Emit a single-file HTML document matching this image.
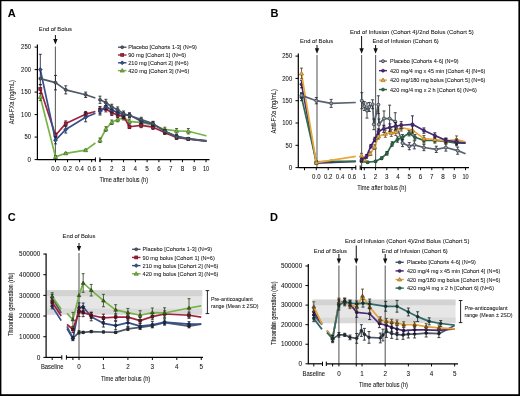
<!DOCTYPE html><html><head><meta charset="utf-8"><style>html,body{margin:0;padding:0;background:#fff;overflow:hidden}svg{display:block;filter:blur(0.3px)}text{font-family:"Liberation Sans", sans-serif}</style></head><body>
<svg width="520" height="396" viewBox="0 0 520 396">
<rect x="0" y="0" width="520" height="396" fill="#fff"/>
<text x="7.7" y="17" font-size="11" text-anchor="start" font-weight="bold" fill="#000" stroke="#222" stroke-width="0.06">A</text>
<text x="55.4" y="30.7" font-size="6.2" text-anchor="middle" font-weight="normal" fill="#111" textLength="33.2" lengthAdjust="spacingAndGlyphs" stroke="#222" stroke-width="0.06">End of Bolus</text>
<path d="M55.4 35V40.5" stroke="#111" stroke-width="1"/>
<path d="M53.199999999999996 38.9L57.6 38.9L55.4 44.5Z" fill="#111"/>
<line x1="55.4" y1="46.5" x2="55.4" y2="159.6" stroke="#606060" stroke-width="1.1"/>
<line x1="37.4" y1="44.5" x2="37.4" y2="160.1" stroke="#000" stroke-width="1.2"/>
<line x1="34.6" y1="159.6" x2="37.4" y2="159.6" stroke="#000" stroke-width="1"/>
<text x="31.0" y="161.85" font-size="6.4" text-anchor="end" font-weight="normal" fill="#111" stroke="#222" stroke-width="0.06">0</text>
<line x1="34.6" y1="137.1" x2="37.4" y2="137.1" stroke="#000" stroke-width="1"/>
<text x="31.0" y="139.35" font-size="6.4" text-anchor="end" font-weight="normal" fill="#111" textLength="6.6" lengthAdjust="spacingAndGlyphs" stroke="#222" stroke-width="0.06">50</text>
<line x1="34.6" y1="114.6" x2="37.4" y2="114.6" stroke="#000" stroke-width="1"/>
<text x="31.0" y="116.85" font-size="6.4" text-anchor="end" font-weight="normal" fill="#111" textLength="9.9" lengthAdjust="spacingAndGlyphs" stroke="#222" stroke-width="0.06">100</text>
<line x1="34.6" y1="92.1" x2="37.4" y2="92.1" stroke="#000" stroke-width="1"/>
<text x="31.0" y="94.35" font-size="6.4" text-anchor="end" font-weight="normal" fill="#111" textLength="9.9" lengthAdjust="spacingAndGlyphs" stroke="#222" stroke-width="0.06">150</text>
<line x1="34.6" y1="69.6" x2="37.4" y2="69.6" stroke="#000" stroke-width="1"/>
<text x="31.0" y="71.85" font-size="6.4" text-anchor="end" font-weight="normal" fill="#111" textLength="9.9" lengthAdjust="spacingAndGlyphs" stroke="#222" stroke-width="0.06">200</text>
<line x1="34.6" y1="47.099999999999994" x2="37.4" y2="47.099999999999994" stroke="#000" stroke-width="1"/>
<text x="31.0" y="49.349999999999994" font-size="6.4" text-anchor="end" font-weight="normal" fill="#111" textLength="9.9" lengthAdjust="spacingAndGlyphs" stroke="#222" stroke-width="0.06">250</text>
<line x1="37.4" y1="159.6" x2="95.6" y2="159.6" stroke="#000" stroke-width="1.2"/>
<line x1="55.5" y1="159.6" x2="55.5" y2="162.2" stroke="#000" stroke-width="1"/>
<text x="55.5" y="171" font-size="6.3" text-anchor="middle" font-weight="normal" fill="#111" textLength="8.5" lengthAdjust="spacingAndGlyphs" stroke="#222" stroke-width="0.06">0.0</text>
<line x1="67.56" y1="159.6" x2="67.56" y2="162.2" stroke="#000" stroke-width="1"/>
<text x="67.56" y="171" font-size="6.3" text-anchor="middle" font-weight="normal" fill="#111" textLength="8.5" lengthAdjust="spacingAndGlyphs" stroke="#222" stroke-width="0.06">0.2</text>
<line x1="79.62" y1="159.6" x2="79.62" y2="162.2" stroke="#000" stroke-width="1"/>
<text x="79.62" y="171" font-size="6.3" text-anchor="middle" font-weight="normal" fill="#111" textLength="8.5" lengthAdjust="spacingAndGlyphs" stroke="#222" stroke-width="0.06">0.4</text>
<line x1="91.68" y1="159.6" x2="91.68" y2="162.2" stroke="#000" stroke-width="1"/>
<text x="91.68" y="171" font-size="6.3" text-anchor="middle" font-weight="normal" fill="#111" textLength="8.5" lengthAdjust="spacingAndGlyphs" stroke="#222" stroke-width="0.06">0.6</text>
<line x1="95.4" y1="157.4" x2="95.4" y2="161.79999999999998" stroke="#000" stroke-width="1"/>
<line x1="99.9" y1="159.6" x2="209.5" y2="159.6" stroke="#000" stroke-width="1.2"/>
<line x1="99.9" y1="157.4" x2="99.9" y2="161.79999999999998" stroke="#000" stroke-width="1"/>
<line x1="100.0" y1="159.6" x2="100.0" y2="162.2" stroke="#000" stroke-width="1"/>
<text x="100.0" y="171" font-size="6.3" text-anchor="middle" font-weight="normal" fill="#111" stroke="#222" stroke-width="0.06">1</text>
<line x1="111.78" y1="159.6" x2="111.78" y2="162.2" stroke="#000" stroke-width="1"/>
<text x="111.78" y="171" font-size="6.3" text-anchor="middle" font-weight="normal" fill="#111" stroke="#222" stroke-width="0.06">2</text>
<line x1="123.56" y1="159.6" x2="123.56" y2="162.2" stroke="#000" stroke-width="1"/>
<text x="123.56" y="171" font-size="6.3" text-anchor="middle" font-weight="normal" fill="#111" stroke="#222" stroke-width="0.06">3</text>
<line x1="135.34" y1="159.6" x2="135.34" y2="162.2" stroke="#000" stroke-width="1"/>
<text x="135.34" y="171" font-size="6.3" text-anchor="middle" font-weight="normal" fill="#111" stroke="#222" stroke-width="0.06">4</text>
<line x1="147.12" y1="159.6" x2="147.12" y2="162.2" stroke="#000" stroke-width="1"/>
<text x="147.12" y="171" font-size="6.3" text-anchor="middle" font-weight="normal" fill="#111" stroke="#222" stroke-width="0.06">5</text>
<line x1="158.9" y1="159.6" x2="158.9" y2="162.2" stroke="#000" stroke-width="1"/>
<text x="158.9" y="171" font-size="6.3" text-anchor="middle" font-weight="normal" fill="#111" stroke="#222" stroke-width="0.06">6</text>
<line x1="170.68" y1="159.6" x2="170.68" y2="162.2" stroke="#000" stroke-width="1"/>
<text x="170.68" y="171" font-size="6.3" text-anchor="middle" font-weight="normal" fill="#111" stroke="#222" stroke-width="0.06">7</text>
<line x1="182.45999999999998" y1="159.6" x2="182.45999999999998" y2="162.2" stroke="#000" stroke-width="1"/>
<text x="182.45999999999998" y="171" font-size="6.3" text-anchor="middle" font-weight="normal" fill="#111" stroke="#222" stroke-width="0.06">8</text>
<line x1="194.24" y1="159.6" x2="194.24" y2="162.2" stroke="#000" stroke-width="1"/>
<text x="194.24" y="171" font-size="6.3" text-anchor="middle" font-weight="normal" fill="#111" stroke="#222" stroke-width="0.06">9</text>
<line x1="206.01999999999998" y1="159.6" x2="206.01999999999998" y2="162.2" stroke="#000" stroke-width="1"/>
<text x="206.01999999999998" y="171" font-size="6.3" text-anchor="middle" font-weight="normal" fill="#111" textLength="6.2" lengthAdjust="spacingAndGlyphs" stroke="#222" stroke-width="0.06">10</text>
<text x="123.8" y="182.2" font-size="6.8" text-anchor="middle" font-weight="normal" fill="#111" textLength="48.6" lengthAdjust="spacingAndGlyphs" stroke="#222" stroke-width="0.06">Time after bolus (h)</text>
<text x="14.5" y="102.1" font-size="6.8" text-anchor="middle" font-weight="normal" fill="#111" transform="rotate(-90 14.5 102.1)" textLength="44.3" lengthAdjust="spacingAndGlyphs" stroke="#222" stroke-width="0.06">Anti-FXa (ng/mL)</text>
<polyline points="40.30,97.05 55.50,156.90 65.75,153.30 85.65,150.15 95.40,142.95" fill="none" stroke="#78b445" stroke-width="1.7" stroke-linejoin="round"/>
<path d="M40.30 93.45V100.65M38.80 93.45H41.80M38.80 100.65H41.80" stroke="#30481b" stroke-width="0.85" fill="none"/>
<path d="M40.30 94.88L42.47 98.60L38.13 98.60Z" fill="#78b445" stroke="#486c29" stroke-width="0.6"/>
<path d="M55.50 155.55V158.25M54.00 155.55H57.00M54.00 158.25H57.00" stroke="#30481b" stroke-width="0.85" fill="none"/>
<path d="M55.50 154.73L57.67 158.45L53.33 158.45Z" fill="#78b445" stroke="#486c29" stroke-width="0.6"/>
<path d="M65.75 152.40V154.20M64.25 152.40H67.25M64.25 154.20H67.25" stroke="#30481b" stroke-width="0.85" fill="none"/>
<path d="M65.75 151.13L67.92 154.85L63.58 154.85Z" fill="#78b445" stroke="#486c29" stroke-width="0.6"/>
<path d="M85.65 149.25V151.05M84.15 149.25H87.15M84.15 151.05H87.15" stroke="#30481b" stroke-width="0.85" fill="none"/>
<path d="M85.65 147.98L87.82 151.70L83.48 151.70Z" fill="#78b445" stroke="#486c29" stroke-width="0.6"/>
<polyline points="100.00,140.25 105.89,129.00 111.78,122.25 117.67,119.55 123.56,117.75 129.45,121.35 141.23,122.70 153.01,124.95 164.79,129.45 176.57,130.80 188.35,131.25 206.02,135.75 206.50,135.75" fill="none" stroke="#78b445" stroke-width="1.7" stroke-linejoin="round"/>
<path d="M100.00 138.00V142.50M98.50 138.00H101.50M98.50 142.50H101.50" stroke="#30481b" stroke-width="0.85" fill="none"/>
<path d="M100.00 138.08L102.17 141.80L97.83 141.80Z" fill="#78b445" stroke="#486c29" stroke-width="0.6"/>
<path d="M105.89 126.75V131.25M104.39 126.75H107.39M104.39 131.25H107.39" stroke="#30481b" stroke-width="0.85" fill="none"/>
<path d="M105.89 126.83L108.06 130.55L103.72 130.55Z" fill="#78b445" stroke="#486c29" stroke-width="0.6"/>
<path d="M111.78 120.00V124.50M110.28 120.00H113.28M110.28 124.50H113.28" stroke="#30481b" stroke-width="0.85" fill="none"/>
<path d="M111.78 120.08L113.95 123.80L109.61 123.80Z" fill="#78b445" stroke="#486c29" stroke-width="0.6"/>
<path d="M117.67 117.30V121.80M116.17 117.30H119.17M116.17 121.80H119.17" stroke="#30481b" stroke-width="0.85" fill="none"/>
<path d="M117.67 117.38L119.84 121.10L115.50 121.10Z" fill="#78b445" stroke="#486c29" stroke-width="0.6"/>
<path d="M123.56 115.50V120.00M122.06 115.50H125.06M122.06 120.00H125.06" stroke="#30481b" stroke-width="0.85" fill="none"/>
<path d="M123.56 115.58L125.73 119.30L121.39 119.30Z" fill="#78b445" stroke="#486c29" stroke-width="0.6"/>
<path d="M129.45 119.10V123.60M127.95 119.10H130.95M127.95 123.60H130.95" stroke="#30481b" stroke-width="0.85" fill="none"/>
<path d="M129.45 119.18L131.62 122.90L127.28 122.90Z" fill="#78b445" stroke="#486c29" stroke-width="0.6"/>
<path d="M141.23 120.45V124.95M139.73 120.45H142.73M139.73 124.95H142.73" stroke="#30481b" stroke-width="0.85" fill="none"/>
<path d="M141.23 120.53L143.40 124.25L139.06 124.25Z" fill="#78b445" stroke="#486c29" stroke-width="0.6"/>
<path d="M153.01 122.70V127.20M151.51 122.70H154.51M151.51 127.20H154.51" stroke="#30481b" stroke-width="0.85" fill="none"/>
<path d="M153.01 122.78L155.18 126.50L150.84 126.50Z" fill="#78b445" stroke="#486c29" stroke-width="0.6"/>
<path d="M164.79 127.20V131.70M163.29 127.20H166.29M163.29 131.70H166.29" stroke="#30481b" stroke-width="0.85" fill="none"/>
<path d="M164.79 127.28L166.96 131.00L162.62 131.00Z" fill="#78b445" stroke="#486c29" stroke-width="0.6"/>
<path d="M176.57 128.55V133.05M175.07 128.55H178.07M175.07 133.05H178.07" stroke="#30481b" stroke-width="0.85" fill="none"/>
<path d="M176.57 128.63L178.74 132.35L174.40 132.35Z" fill="#78b445" stroke="#486c29" stroke-width="0.6"/>
<path d="M188.35 128.55V133.95M186.85 128.55H189.85M186.85 133.95H189.85" stroke="#30481b" stroke-width="0.85" fill="none"/>
<path d="M188.35 129.08L190.52 132.80L186.18 132.80Z" fill="#78b445" stroke="#486c29" stroke-width="0.6"/>
<polyline points="40.30,88.95 55.50,135.30 65.75,123.60 85.65,114.15 95.40,111.45" fill="none" stroke="#a3203f" stroke-width="1.7" stroke-linejoin="round"/>
<path d="M40.30 84.45V93.45M38.80 84.45H41.80M38.80 93.45H41.80" stroke="#410c19" stroke-width="0.85" fill="none"/>
<rect x="38.75" y="87.40" width="3.1" height="3.1" fill="#a3203f" stroke="#611325" stroke-width="0.6"/>
<path d="M55.50 133.05V137.55M54.00 133.05H57.00M54.00 137.55H57.00" stroke="#410c19" stroke-width="0.85" fill="none"/>
<rect x="53.95" y="133.75" width="3.1" height="3.1" fill="#a3203f" stroke="#611325" stroke-width="0.6"/>
<path d="M65.75 120.90V126.30M64.25 120.90H67.25M64.25 126.30H67.25" stroke="#410c19" stroke-width="0.85" fill="none"/>
<rect x="64.20" y="122.05" width="3.1" height="3.1" fill="#a3203f" stroke="#611325" stroke-width="0.6"/>
<path d="M85.65 111.45V116.85M84.15 111.45H87.15M84.15 116.85H87.15" stroke="#410c19" stroke-width="0.85" fill="none"/>
<rect x="84.10" y="112.60" width="3.1" height="3.1" fill="#a3203f" stroke="#611325" stroke-width="0.6"/>
<polyline points="100.00,110.10 105.89,108.75 111.78,112.80 117.67,115.05 123.56,116.40 129.45,126.75 141.23,125.40 153.01,127.20 164.79,132.60 176.57,137.55 188.35,138.90 206.02,141.15 206.50,141.15" fill="none" stroke="#a3203f" stroke-width="1.7" stroke-linejoin="round"/>
<path d="M100.00 106.50V113.70M98.50 106.50H101.50M98.50 113.70H101.50" stroke="#410c19" stroke-width="0.85" fill="none"/>
<rect x="98.45" y="108.55" width="3.1" height="3.1" fill="#a3203f" stroke="#611325" stroke-width="0.6"/>
<path d="M105.89 105.60V111.90M104.39 105.60H107.39M104.39 111.90H107.39" stroke="#410c19" stroke-width="0.85" fill="none"/>
<rect x="104.34" y="107.20" width="3.1" height="3.1" fill="#a3203f" stroke="#611325" stroke-width="0.6"/>
<path d="M111.78 110.10V115.50M110.28 110.10H113.28M110.28 115.50H113.28" stroke="#410c19" stroke-width="0.85" fill="none"/>
<rect x="110.23" y="111.25" width="3.1" height="3.1" fill="#a3203f" stroke="#611325" stroke-width="0.6"/>
<path d="M117.67 112.80V117.30M116.17 112.80H119.17M116.17 117.30H119.17" stroke="#410c19" stroke-width="0.85" fill="none"/>
<rect x="116.12" y="113.50" width="3.1" height="3.1" fill="#a3203f" stroke="#611325" stroke-width="0.6"/>
<path d="M123.56 114.15V118.65M122.06 114.15H125.06M122.06 118.65H125.06" stroke="#410c19" stroke-width="0.85" fill="none"/>
<rect x="122.01" y="114.85" width="3.1" height="3.1" fill="#a3203f" stroke="#611325" stroke-width="0.6"/>
<path d="M129.45 124.95V128.55M127.95 124.95H130.95M127.95 128.55H130.95" stroke="#410c19" stroke-width="0.85" fill="none"/>
<rect x="127.90" y="125.20" width="3.1" height="3.1" fill="#a3203f" stroke="#611325" stroke-width="0.6"/>
<path d="M141.23 123.15V127.65M139.73 123.15H142.73M139.73 127.65H142.73" stroke="#410c19" stroke-width="0.85" fill="none"/>
<rect x="139.68" y="123.85" width="3.1" height="3.1" fill="#a3203f" stroke="#611325" stroke-width="0.6"/>
<path d="M153.01 124.95V129.45M151.51 124.95H154.51M151.51 129.45H154.51" stroke="#410c19" stroke-width="0.85" fill="none"/>
<rect x="151.46" y="125.65" width="3.1" height="3.1" fill="#a3203f" stroke="#611325" stroke-width="0.6"/>
<path d="M164.79 130.80V134.40M163.29 130.80H166.29M163.29 134.40H166.29" stroke="#410c19" stroke-width="0.85" fill="none"/>
<rect x="163.24" y="131.05" width="3.1" height="3.1" fill="#a3203f" stroke="#611325" stroke-width="0.6"/>
<path d="M176.57 135.75V139.35M175.07 135.75H178.07M175.07 139.35H178.07" stroke="#410c19" stroke-width="0.85" fill="none"/>
<rect x="175.02" y="136.00" width="3.1" height="3.1" fill="#a3203f" stroke="#611325" stroke-width="0.6"/>
<path d="M188.35 137.55V140.25M186.85 137.55H189.85M186.85 140.25H189.85" stroke="#410c19" stroke-width="0.85" fill="none"/>
<rect x="186.80" y="137.35" width="3.1" height="3.1" fill="#a3203f" stroke="#611325" stroke-width="0.6"/>
<polyline points="40.30,69.60 55.50,140.25 65.75,129.45 85.65,117.30 95.40,113.25" fill="none" stroke="#35508a" stroke-width="1.7" stroke-linejoin="round"/>
<path d="M40.30 54.30V84.90M38.80 54.30H41.80M38.80 84.90H41.80" stroke="#152037" stroke-width="0.85" fill="none"/>
<path d="M40.30 67.58L42.31 69.60L40.30 71.61L38.28 69.60Z" fill="#35508a" stroke="#1f3052" stroke-width="0.6"/>
<path d="M55.50 136.65V143.85M54.00 136.65H57.00M54.00 143.85H57.00" stroke="#152037" stroke-width="0.85" fill="none"/>
<path d="M55.50 138.24L57.52 140.25L55.50 142.26L53.48 140.25Z" fill="#35508a" stroke="#1f3052" stroke-width="0.6"/>
<path d="M65.75 125.85V133.05M64.25 125.85H67.25M64.25 133.05H67.25" stroke="#152037" stroke-width="0.85" fill="none"/>
<path d="M65.75 127.43L67.77 129.45L65.75 131.46L63.74 129.45Z" fill="#35508a" stroke="#1f3052" stroke-width="0.6"/>
<path d="M85.65 112.80V121.80M84.15 112.80H87.15M84.15 121.80H87.15" stroke="#152037" stroke-width="0.85" fill="none"/>
<path d="M85.65 115.28L87.67 117.30L85.65 119.31L83.64 117.30Z" fill="#35508a" stroke="#1f3052" stroke-width="0.6"/>
<polyline points="100.00,111.45 105.89,106.50 111.78,110.10 117.67,112.35 123.56,115.05 129.45,115.05 141.23,121.35 153.01,124.05 164.79,131.25 176.57,136.20 188.35,138.90 206.02,140.70 206.50,140.70" fill="none" stroke="#35508a" stroke-width="1.7" stroke-linejoin="round"/>
<path d="M100.00 107.85V115.05M98.50 107.85H101.50M98.50 115.05H101.50" stroke="#152037" stroke-width="0.85" fill="none"/>
<path d="M100.00 109.43L102.02 111.45L100.00 113.46L97.98 111.45Z" fill="#35508a" stroke="#1f3052" stroke-width="0.6"/>
<path d="M105.89 103.35V109.65M104.39 103.35H107.39M104.39 109.65H107.39" stroke="#152037" stroke-width="0.85" fill="none"/>
<path d="M105.89 104.48L107.91 106.50L105.89 108.52L103.88 106.50Z" fill="#35508a" stroke="#1f3052" stroke-width="0.6"/>
<path d="M111.78 107.40V112.80M110.28 107.40H113.28M110.28 112.80H113.28" stroke="#152037" stroke-width="0.85" fill="none"/>
<path d="M111.78 108.08L113.80 110.10L111.78 112.11L109.77 110.10Z" fill="#35508a" stroke="#1f3052" stroke-width="0.6"/>
<path d="M117.67 109.65V115.05M116.17 109.65H119.17M116.17 115.05H119.17" stroke="#152037" stroke-width="0.85" fill="none"/>
<path d="M117.67 110.33L119.69 112.35L117.67 114.36L115.66 112.35Z" fill="#35508a" stroke="#1f3052" stroke-width="0.6"/>
<path d="M123.56 112.35V117.75M122.06 112.35H125.06M122.06 117.75H125.06" stroke="#152037" stroke-width="0.85" fill="none"/>
<path d="M123.56 113.03L125.58 115.05L123.56 117.06L121.55 115.05Z" fill="#35508a" stroke="#1f3052" stroke-width="0.6"/>
<path d="M129.45 112.80V117.30M127.95 112.80H130.95M127.95 117.30H130.95" stroke="#152037" stroke-width="0.85" fill="none"/>
<path d="M129.45 113.03L131.46 115.05L129.45 117.06L127.43 115.05Z" fill="#35508a" stroke="#1f3052" stroke-width="0.6"/>
<path d="M141.23 119.10V123.60M139.73 119.10H142.73M139.73 123.60H142.73" stroke="#152037" stroke-width="0.85" fill="none"/>
<path d="M141.23 119.33L143.24 121.35L141.23 123.36L139.22 121.35Z" fill="#35508a" stroke="#1f3052" stroke-width="0.6"/>
<path d="M153.01 121.80V126.30M151.51 121.80H154.51M151.51 126.30H154.51" stroke="#152037" stroke-width="0.85" fill="none"/>
<path d="M153.01 122.03L155.02 124.05L153.01 126.06L151.00 124.05Z" fill="#35508a" stroke="#1f3052" stroke-width="0.6"/>
<path d="M164.79 129.45V133.05M163.29 129.45H166.29M163.29 133.05H166.29" stroke="#152037" stroke-width="0.85" fill="none"/>
<path d="M164.79 129.24L166.80 131.25L164.79 133.26L162.78 131.25Z" fill="#35508a" stroke="#1f3052" stroke-width="0.6"/>
<path d="M176.57 134.40V138.00M175.07 134.40H178.07M175.07 138.00H178.07" stroke="#152037" stroke-width="0.85" fill="none"/>
<path d="M176.57 134.19L178.58 136.20L176.57 138.21L174.56 136.20Z" fill="#35508a" stroke="#1f3052" stroke-width="0.6"/>
<path d="M188.35 137.55V140.25M186.85 137.55H189.85M186.85 140.25H189.85" stroke="#152037" stroke-width="0.85" fill="none"/>
<path d="M188.35 136.89L190.36 138.90L188.35 140.91L186.34 138.90Z" fill="#35508a" stroke="#1f3052" stroke-width="0.6"/>
<polyline points="40.30,78.60 55.50,82.65 65.75,89.85 85.65,94.80 95.40,97.95" fill="none" stroke="#4f5a66" stroke-width="1.7" stroke-linejoin="round"/>
<circle cx="40.30" cy="78.60" r="1.55" fill="#4f5a66" stroke="#2f363d" stroke-width="0.6"/>
<path d="M55.50 75.45V89.85M54.00 75.45H57.00M54.00 89.85H57.00" stroke="#1f2428" stroke-width="0.85" fill="none"/>
<circle cx="55.50" cy="82.65" r="1.55" fill="#4f5a66" stroke="#2f363d" stroke-width="0.6"/>
<path d="M65.75 85.80V93.90M64.25 85.80H67.25M64.25 93.90H67.25" stroke="#1f2428" stroke-width="0.85" fill="none"/>
<circle cx="65.75" cy="89.85" r="1.55" fill="#4f5a66" stroke="#2f363d" stroke-width="0.6"/>
<path d="M85.65 92.10V97.50M84.15 92.10H87.15M84.15 97.50H87.15" stroke="#1f2428" stroke-width="0.85" fill="none"/>
<circle cx="85.65" cy="94.80" r="1.55" fill="#4f5a66" stroke="#2f363d" stroke-width="0.6"/>
<polyline points="100.00,99.75 105.89,102.45 111.78,106.95 117.67,109.65 123.56,113.70 129.45,115.50 141.23,119.55 153.01,123.60 164.79,131.25 176.57,137.10 188.35,138.90 206.02,141.15 206.50,141.15" fill="none" stroke="#4f5a66" stroke-width="1.7" stroke-linejoin="round"/>
<path d="M100.00 96.15V103.35M98.50 96.15H101.50M98.50 103.35H101.50" stroke="#1f2428" stroke-width="0.85" fill="none"/>
<circle cx="100.00" cy="99.75" r="1.55" fill="#4f5a66" stroke="#2f363d" stroke-width="0.6"/>
<path d="M105.89 99.30V105.60M104.39 99.30H107.39M104.39 105.60H107.39" stroke="#1f2428" stroke-width="0.85" fill="none"/>
<circle cx="105.89" cy="102.45" r="1.55" fill="#4f5a66" stroke="#2f363d" stroke-width="0.6"/>
<path d="M111.78 104.25V109.65M110.28 104.25H113.28M110.28 109.65H113.28" stroke="#1f2428" stroke-width="0.85" fill="none"/>
<circle cx="111.78" cy="106.95" r="1.55" fill="#4f5a66" stroke="#2f363d" stroke-width="0.6"/>
<path d="M117.67 106.95V112.35M116.17 106.95H119.17M116.17 112.35H119.17" stroke="#1f2428" stroke-width="0.85" fill="none"/>
<circle cx="117.67" cy="109.65" r="1.55" fill="#4f5a66" stroke="#2f363d" stroke-width="0.6"/>
<path d="M123.56 111.00V116.40M122.06 111.00H125.06M122.06 116.40H125.06" stroke="#1f2428" stroke-width="0.85" fill="none"/>
<circle cx="123.56" cy="113.70" r="1.55" fill="#4f5a66" stroke="#2f363d" stroke-width="0.6"/>
<path d="M129.45 113.25V117.75M127.95 113.25H130.95M127.95 117.75H130.95" stroke="#1f2428" stroke-width="0.85" fill="none"/>
<circle cx="129.45" cy="115.50" r="1.55" fill="#4f5a66" stroke="#2f363d" stroke-width="0.6"/>
<path d="M141.23 117.30V121.80M139.73 117.30H142.73M139.73 121.80H142.73" stroke="#1f2428" stroke-width="0.85" fill="none"/>
<circle cx="141.23" cy="119.55" r="1.55" fill="#4f5a66" stroke="#2f363d" stroke-width="0.6"/>
<path d="M153.01 121.35V125.85M151.51 121.35H154.51M151.51 125.85H154.51" stroke="#1f2428" stroke-width="0.85" fill="none"/>
<circle cx="153.01" cy="123.60" r="1.55" fill="#4f5a66" stroke="#2f363d" stroke-width="0.6"/>
<path d="M164.79 129.45V133.05M163.29 129.45H166.29M163.29 133.05H166.29" stroke="#1f2428" stroke-width="0.85" fill="none"/>
<circle cx="164.79" cy="131.25" r="1.55" fill="#4f5a66" stroke="#2f363d" stroke-width="0.6"/>
<path d="M176.57 135.30V138.90M175.07 135.30H178.07M175.07 138.90H178.07" stroke="#1f2428" stroke-width="0.85" fill="none"/>
<circle cx="176.57" cy="137.10" r="1.55" fill="#4f5a66" stroke="#2f363d" stroke-width="0.6"/>
<path d="M188.35 137.55V140.25M186.85 137.55H189.85M186.85 140.25H189.85" stroke="#1f2428" stroke-width="0.85" fill="none"/>
<circle cx="188.35" cy="138.90" r="1.55" fill="#4f5a66" stroke="#2f363d" stroke-width="0.6"/>
<line x1="118" y1="47.2" x2="126.5" y2="47.2" stroke="#4f5a66" stroke-width="1.4"/>
<circle cx="122.20" cy="47.20" r="1.5" fill="#4f5a66" stroke="#2f363d" stroke-width="0.6"/>
<text x="128.2" y="49.300000000000004" font-size="6.0" text-anchor="start" font-weight="normal" fill="#111" textLength="68.6" lengthAdjust="spacingAndGlyphs" stroke="#222" stroke-width="0.06">Placebo [Cohorts 1-3] (N=9)</text>
<line x1="118" y1="55.0" x2="126.5" y2="55.0" stroke="#a3203f" stroke-width="1.4"/>
<rect x="120.70" y="53.50" width="3.0" height="3.0" fill="#a3203f" stroke="#611325" stroke-width="0.6"/>
<text x="128.2" y="57.1" font-size="6.0" text-anchor="start" font-weight="normal" fill="#111" textLength="58.0" lengthAdjust="spacingAndGlyphs" stroke="#222" stroke-width="0.06">90 mg [Cohort 1] (N=6)</text>
<line x1="118" y1="62.800000000000004" x2="126.5" y2="62.800000000000004" stroke="#35508a" stroke-width="1.4"/>
<path d="M122.20 60.85L124.15 62.80L122.20 64.75L120.25 62.80Z" fill="#35508a" stroke="#1f3052" stroke-width="0.6"/>
<text x="128.2" y="64.9" font-size="6.0" text-anchor="start" font-weight="normal" fill="#111" textLength="60.4" lengthAdjust="spacingAndGlyphs" stroke="#222" stroke-width="0.06">210 mg [Cohort 2] (N=6)</text>
<line x1="118" y1="70.6" x2="126.5" y2="70.6" stroke="#78b445" stroke-width="1.4"/>
<path d="M122.20 68.50L124.30 72.10L120.10 72.10Z" fill="#78b445" stroke="#486c29" stroke-width="0.6"/>
<text x="128.2" y="72.69999999999999" font-size="6.0" text-anchor="start" font-weight="normal" fill="#111" textLength="61.2" lengthAdjust="spacingAndGlyphs" stroke="#222" stroke-width="0.06">420 mg [Cohort 3] (N=6)</text>
<text x="270.6" y="17" font-size="11" text-anchor="start" font-weight="bold" fill="#000" stroke="#222" stroke-width="0.06">B</text>
<text x="316.6" y="42.7" font-size="6.2" text-anchor="middle" font-weight="normal" fill="#111" textLength="33.0" lengthAdjust="spacingAndGlyphs" stroke="#222" stroke-width="0.06">End of Bolus</text>
<path d="M317.0 45V49.8" stroke="#111" stroke-width="1"/>
<path d="M314.8 48.199999999999996L319.2 48.199999999999996L317.0 53.8Z" fill="#111"/>
<line x1="317.0" y1="55" x2="317.0" y2="167.6" stroke="#606060" stroke-width="1.1"/>
<text x="349.9" y="33.6" font-size="6.2" text-anchor="start" font-weight="normal" fill="#111" textLength="123.8" lengthAdjust="spacingAndGlyphs" stroke="#222" stroke-width="0.06">End of Infusion (Cohort 4)/2nd Bolus (Cohort 5)</text>
<path d="M361.6 36V49.8" stroke="#111" stroke-width="1"/>
<path d="M359.40000000000003 48.199999999999996L363.8 48.199999999999996L361.6 53.8Z" fill="#111"/>
<line x1="361.6" y1="55" x2="361.6" y2="167.6" stroke="#606060" stroke-width="1.1"/>
<text x="372.4" y="42.7" font-size="6.2" text-anchor="start" font-weight="normal" fill="#111" textLength="66.4" lengthAdjust="spacingAndGlyphs" stroke="#222" stroke-width="0.06">End of Infusion (Cohort 6)</text>
<path d="M375.6 45V49.8" stroke="#111" stroke-width="1"/>
<path d="M373.40000000000003 48.199999999999996L377.8 48.199999999999996L375.6 53.8Z" fill="#111"/>
<line x1="375.6" y1="55" x2="375.6" y2="167.6" stroke="#606060" stroke-width="1.1"/>
<line x1="298.3" y1="53.5" x2="298.3" y2="168.1" stroke="#000" stroke-width="1.2"/>
<line x1="295.5" y1="167.6" x2="298.3" y2="167.6" stroke="#000" stroke-width="1"/>
<text x="292.2" y="169.85" font-size="6.4" text-anchor="end" font-weight="normal" fill="#111" stroke="#222" stroke-width="0.06">0</text>
<line x1="295.5" y1="145.29999999999998" x2="298.3" y2="145.29999999999998" stroke="#000" stroke-width="1"/>
<text x="292.2" y="147.54999999999998" font-size="6.4" text-anchor="end" font-weight="normal" fill="#111" textLength="6.6" lengthAdjust="spacingAndGlyphs" stroke="#222" stroke-width="0.06">50</text>
<line x1="295.5" y1="123.0" x2="298.3" y2="123.0" stroke="#000" stroke-width="1"/>
<text x="292.2" y="125.25" font-size="6.4" text-anchor="end" font-weight="normal" fill="#111" textLength="9.9" lengthAdjust="spacingAndGlyphs" stroke="#222" stroke-width="0.06">100</text>
<line x1="295.5" y1="100.69999999999999" x2="298.3" y2="100.69999999999999" stroke="#000" stroke-width="1"/>
<text x="292.2" y="102.94999999999999" font-size="6.4" text-anchor="end" font-weight="normal" fill="#111" textLength="9.9" lengthAdjust="spacingAndGlyphs" stroke="#222" stroke-width="0.06">150</text>
<line x1="295.5" y1="78.39999999999999" x2="298.3" y2="78.39999999999999" stroke="#000" stroke-width="1"/>
<text x="292.2" y="80.64999999999999" font-size="6.4" text-anchor="end" font-weight="normal" fill="#111" textLength="9.9" lengthAdjust="spacingAndGlyphs" stroke="#222" stroke-width="0.06">200</text>
<line x1="295.5" y1="56.099999999999994" x2="298.3" y2="56.099999999999994" stroke="#000" stroke-width="1"/>
<text x="292.2" y="58.349999999999994" font-size="6.4" text-anchor="end" font-weight="normal" fill="#111" textLength="9.9" lengthAdjust="spacingAndGlyphs" stroke="#222" stroke-width="0.06">250</text>
<line x1="298.3" y1="167.6" x2="356" y2="167.6" stroke="#000" stroke-width="1.2"/>
<line x1="304.5" y1="167.6" x2="304.5" y2="170.2" stroke="#000" stroke-width="1"/>
<line x1="316.3" y1="167.6" x2="316.3" y2="170.2" stroke="#000" stroke-width="1"/>
<text x="316.3" y="179.3" font-size="6.3" text-anchor="middle" font-weight="normal" fill="#111" textLength="8.5" lengthAdjust="spacingAndGlyphs" stroke="#222" stroke-width="0.06">0.0</text>
<line x1="328.2" y1="167.6" x2="328.2" y2="170.2" stroke="#000" stroke-width="1"/>
<text x="328.2" y="179.3" font-size="6.3" text-anchor="middle" font-weight="normal" fill="#111" textLength="8.5" lengthAdjust="spacingAndGlyphs" stroke="#222" stroke-width="0.06">0.2</text>
<line x1="340.1" y1="167.6" x2="340.1" y2="170.2" stroke="#000" stroke-width="1"/>
<text x="340.1" y="179.3" font-size="6.3" text-anchor="middle" font-weight="normal" fill="#111" textLength="8.5" lengthAdjust="spacingAndGlyphs" stroke="#222" stroke-width="0.06">0.4</text>
<line x1="352.0" y1="167.6" x2="352.0" y2="170.2" stroke="#000" stroke-width="1"/>
<text x="352.0" y="179.3" font-size="6.3" text-anchor="middle" font-weight="normal" fill="#111" textLength="8.5" lengthAdjust="spacingAndGlyphs" stroke="#222" stroke-width="0.06">0.6</text>
<line x1="355.8" y1="165.4" x2="355.8" y2="169.79999999999998" stroke="#000" stroke-width="1"/>
<line x1="360.2" y1="167.6" x2="469" y2="167.6" stroke="#000" stroke-width="1.2"/>
<line x1="360.2" y1="165.4" x2="360.2" y2="169.79999999999998" stroke="#000" stroke-width="1"/>
<line x1="361.4875" y1="167.6" x2="361.4875" y2="170.2" stroke="#000" stroke-width="1"/>
<line x1="364.3" y1="167.6" x2="364.3" y2="170.2" stroke="#000" stroke-width="1"/>
<text x="364.3" y="179.3" font-size="6.3" text-anchor="middle" font-weight="normal" fill="#111" stroke="#222" stroke-width="0.06">1</text>
<line x1="375.55" y1="167.6" x2="375.55" y2="170.2" stroke="#000" stroke-width="1"/>
<text x="375.55" y="179.3" font-size="6.3" text-anchor="middle" font-weight="normal" fill="#111" stroke="#222" stroke-width="0.06">2</text>
<line x1="386.8" y1="167.6" x2="386.8" y2="170.2" stroke="#000" stroke-width="1"/>
<text x="386.8" y="179.3" font-size="6.3" text-anchor="middle" font-weight="normal" fill="#111" stroke="#222" stroke-width="0.06">3</text>
<line x1="398.05" y1="167.6" x2="398.05" y2="170.2" stroke="#000" stroke-width="1"/>
<text x="398.05" y="179.3" font-size="6.3" text-anchor="middle" font-weight="normal" fill="#111" stroke="#222" stroke-width="0.06">4</text>
<line x1="409.3" y1="167.6" x2="409.3" y2="170.2" stroke="#000" stroke-width="1"/>
<text x="409.3" y="179.3" font-size="6.3" text-anchor="middle" font-weight="normal" fill="#111" stroke="#222" stroke-width="0.06">5</text>
<line x1="420.55" y1="167.6" x2="420.55" y2="170.2" stroke="#000" stroke-width="1"/>
<text x="420.55" y="179.3" font-size="6.3" text-anchor="middle" font-weight="normal" fill="#111" stroke="#222" stroke-width="0.06">6</text>
<line x1="431.8" y1="167.6" x2="431.8" y2="170.2" stroke="#000" stroke-width="1"/>
<text x="431.8" y="179.3" font-size="6.3" text-anchor="middle" font-weight="normal" fill="#111" stroke="#222" stroke-width="0.06">7</text>
<line x1="443.05" y1="167.6" x2="443.05" y2="170.2" stroke="#000" stroke-width="1"/>
<text x="443.05" y="179.3" font-size="6.3" text-anchor="middle" font-weight="normal" fill="#111" stroke="#222" stroke-width="0.06">8</text>
<line x1="454.3" y1="167.6" x2="454.3" y2="170.2" stroke="#000" stroke-width="1"/>
<text x="454.3" y="179.3" font-size="6.3" text-anchor="middle" font-weight="normal" fill="#111" stroke="#222" stroke-width="0.06">9</text>
<line x1="465.55" y1="167.6" x2="465.55" y2="170.2" stroke="#000" stroke-width="1"/>
<text x="465.55" y="179.3" font-size="6.3" text-anchor="middle" font-weight="normal" fill="#111" textLength="6.2" lengthAdjust="spacingAndGlyphs" stroke="#222" stroke-width="0.06">10</text>
<text x="381.8" y="189.8" font-size="6.8" text-anchor="middle" font-weight="normal" fill="#111" textLength="49.0" lengthAdjust="spacingAndGlyphs" stroke="#222" stroke-width="0.06">Time after bolus (h)</text>
<text x="276.5" y="111.2" font-size="6.8" text-anchor="middle" font-weight="normal" fill="#111" transform="rotate(-90 276.5 111.2)" textLength="44.4" lengthAdjust="spacingAndGlyphs" stroke="#222" stroke-width="0.06">Anti-FXa (ng/mL)</text>
<polyline points="301.50,84.20 316.30,163.14 355.80,161.36" fill="none" stroke="#4a2a7e" stroke-width="1.7" stroke-linejoin="round"/>
<path d="M301.50 80.63V87.77M300.00 80.63H303.00M300.00 87.77H303.00" stroke="#1d1032" stroke-width="0.85" fill="none"/>
<circle cx="301.50" cy="84.20" r="1.55" fill="#4a2a7e" stroke="#2c194b" stroke-width="0.6"/>
<path d="M316.30 162.25V164.03M314.80 162.25H317.80M314.80 164.03H317.80" stroke="#1d1032" stroke-width="0.85" fill="none"/>
<circle cx="316.30" cy="163.14" r="1.55" fill="#4a2a7e" stroke="#2c194b" stroke-width="0.6"/>
<polyline points="301.50,97.13 316.30,161.80 331.18,161.36 355.80,161.36" fill="none" stroke="#2f6a4c" stroke-width="1.7" stroke-linejoin="round"/>
<path d="M301.50 93.56V100.70M300.00 93.56H303.00M300.00 100.70H303.00" stroke="#122a1e" stroke-width="0.85" fill="none"/>
<circle cx="301.50" cy="97.13" r="1.55" fill="#2f6a4c" stroke="#1c3f2d" stroke-width="0.6"/>
<path d="M316.30 160.91V162.69M314.80 160.91H317.80M314.80 162.69H317.80" stroke="#122a1e" stroke-width="0.85" fill="none"/>
<circle cx="316.30" cy="161.80" r="1.55" fill="#2f6a4c" stroke="#1c3f2d" stroke-width="0.6"/>
<path d="M331.18 160.46V162.25M329.68 160.46H332.68M329.68 162.25H332.68" stroke="#122a1e" stroke-width="0.85" fill="none"/>
<circle cx="331.18" cy="161.36" r="1.55" fill="#2f6a4c" stroke="#1c3f2d" stroke-width="0.6"/>
<polyline points="301.50,73.49 316.30,162.69 355.80,156.45" fill="none" stroke="#e9a93a" stroke-width="1.7" stroke-linejoin="round"/>
<path d="M301.50 68.14V78.85M300.00 68.14H303.00M300.00 78.85H303.00" stroke="#5d4317" stroke-width="0.85" fill="none"/>
<path d="M301.50 71.32L303.67 75.04L299.33 75.04Z" fill="#e9a93a" stroke="#8b6522" stroke-width="0.6"/>
<path d="M316.30 161.80V163.59M314.80 161.80H317.80M314.80 163.59H317.80" stroke="#5d4317" stroke-width="0.85" fill="none"/>
<path d="M316.30 160.52L318.47 164.24L314.13 164.24Z" fill="#e9a93a" stroke="#8b6522" stroke-width="0.6"/>
<polyline points="301.50,95.35 316.30,100.70 331.18,103.38 355.80,102.48" fill="none" stroke="#59636e" stroke-width="1.7" stroke-linejoin="round"/>
<path d="M301.50 92.67V98.02M300.00 92.67H303.00M300.00 98.02H303.00" stroke="#23272c" stroke-width="0.85" fill="none"/>
<circle cx="301.50" cy="95.35" r="1.55" fill="#9aa4ae" stroke="#3c4650" stroke-width="0.9"/>
<path d="M316.30 97.58V103.82M314.80 97.58H317.80M314.80 103.82H317.80" stroke="#23272c" stroke-width="0.85" fill="none"/>
<circle cx="316.30" cy="100.70" r="1.55" fill="#9aa4ae" stroke="#3c4650" stroke-width="0.9"/>
<path d="M331.18 99.36V107.39M329.68 99.36H332.68M329.68 107.39H332.68" stroke="#23272c" stroke-width="0.85" fill="none"/>
<circle cx="331.18" cy="103.38" r="1.55" fill="#9aa4ae" stroke="#3c4650" stroke-width="0.9"/>
<polyline points="361.82,100.70 364.30,106.05 367.00,110.51 369.36,106.94 372.62,104.27 373.86,124.34 378.36,104.71 378.93,124.34 383.99,118.54 389.61,118.54 395.24,121.66 402.55,143.07 409.30,146.19 414.36,144.85 423.93,147.53 436.30,149.31 445.86,147.53 457.68,150.65 465.55,153.77" fill="none" stroke="#59636e" stroke-width="1.7" stroke-linejoin="round"/>
<path d="M361.82 92.67V108.73M360.32 92.67H363.32M360.32 108.73H363.32" stroke="#23272c" stroke-width="0.85" fill="none"/>
<circle cx="361.82" cy="100.70" r="1.55" fill="#9aa4ae" stroke="#3c4650" stroke-width="0.9"/>
<path d="M364.30 101.59V110.51M362.80 101.59H365.80M362.80 110.51H365.80" stroke="#23272c" stroke-width="0.85" fill="none"/>
<circle cx="364.30" cy="106.05" r="1.55" fill="#9aa4ae" stroke="#3c4650" stroke-width="0.9"/>
<path d="M367.00 102.93V118.09M365.50 102.93H368.50M365.50 118.09H368.50" stroke="#23272c" stroke-width="0.85" fill="none"/>
<circle cx="367.00" cy="110.51" r="1.55" fill="#9aa4ae" stroke="#3c4650" stroke-width="0.9"/>
<path d="M369.36 102.48V111.40M367.86 102.48H370.86M367.86 111.40H370.86" stroke="#23272c" stroke-width="0.85" fill="none"/>
<circle cx="369.36" cy="106.94" r="1.55" fill="#9aa4ae" stroke="#3c4650" stroke-width="0.9"/>
<path d="M372.62 99.81V108.73M371.12 99.81H374.12M371.12 108.73H374.12" stroke="#23272c" stroke-width="0.85" fill="none"/>
<circle cx="372.62" cy="104.27" r="1.55" fill="#9aa4ae" stroke="#3c4650" stroke-width="0.9"/>
<path d="M373.86 118.99V129.69M372.36 118.99H375.36M372.36 129.69H375.36" stroke="#23272c" stroke-width="0.85" fill="none"/>
<circle cx="373.86" cy="124.34" r="1.55" fill="#9aa4ae" stroke="#3c4650" stroke-width="0.9"/>
<path d="M378.36 95.79V113.63M376.86 95.79H379.86M376.86 113.63H379.86" stroke="#23272c" stroke-width="0.85" fill="none"/>
<circle cx="378.36" cy="104.71" r="1.55" fill="#9aa4ae" stroke="#3c4650" stroke-width="0.9"/>
<path d="M378.93 118.99V129.69M377.43 118.99H380.43M377.43 129.69H380.43" stroke="#23272c" stroke-width="0.85" fill="none"/>
<circle cx="378.93" cy="124.34" r="1.55" fill="#9aa4ae" stroke="#3c4650" stroke-width="0.9"/>
<path d="M383.99 110.96V126.12M382.49 110.96H385.49M382.49 126.12H385.49" stroke="#23272c" stroke-width="0.85" fill="none"/>
<circle cx="383.99" cy="118.54" r="1.55" fill="#9aa4ae" stroke="#3c4650" stroke-width="0.9"/>
<path d="M389.61 105.16V131.92M388.11 105.16H391.11M388.11 131.92H391.11" stroke="#23272c" stroke-width="0.85" fill="none"/>
<circle cx="389.61" cy="118.54" r="1.55" fill="#9aa4ae" stroke="#3c4650" stroke-width="0.9"/>
<path d="M395.24 112.74V130.58M393.74 112.74H396.74M393.74 130.58H396.74" stroke="#23272c" stroke-width="0.85" fill="none"/>
<circle cx="395.24" cy="121.66" r="1.55" fill="#9aa4ae" stroke="#3c4650" stroke-width="0.9"/>
<path d="M402.55 139.50V146.64M401.05 139.50H404.05M401.05 146.64H404.05" stroke="#23272c" stroke-width="0.85" fill="none"/>
<circle cx="402.55" cy="143.07" r="1.55" fill="#9aa4ae" stroke="#3c4650" stroke-width="0.9"/>
<path d="M409.30 142.62V149.76M407.80 142.62H410.80M407.80 149.76H410.80" stroke="#23272c" stroke-width="0.85" fill="none"/>
<circle cx="409.30" cy="146.19" r="1.55" fill="#9aa4ae" stroke="#3c4650" stroke-width="0.9"/>
<path d="M414.36 140.84V148.87M412.86 140.84H415.86M412.86 148.87H415.86" stroke="#23272c" stroke-width="0.85" fill="none"/>
<circle cx="414.36" cy="144.85" r="1.55" fill="#9aa4ae" stroke="#3c4650" stroke-width="0.9"/>
<path d="M423.93 144.41V150.65M422.43 144.41H425.43M422.43 150.65H425.43" stroke="#23272c" stroke-width="0.85" fill="none"/>
<circle cx="423.93" cy="147.53" r="1.55" fill="#9aa4ae" stroke="#3c4650" stroke-width="0.9"/>
<path d="M436.30 146.19V152.44M434.80 146.19H437.80M434.80 152.44H437.80" stroke="#23272c" stroke-width="0.85" fill="none"/>
<circle cx="436.30" cy="149.31" r="1.55" fill="#9aa4ae" stroke="#3c4650" stroke-width="0.9"/>
<path d="M445.86 143.96V151.10M444.36 143.96H447.36M444.36 151.10H447.36" stroke="#23272c" stroke-width="0.85" fill="none"/>
<circle cx="445.86" cy="147.53" r="1.55" fill="#9aa4ae" stroke="#3c4650" stroke-width="0.9"/>
<path d="M457.68 147.08V154.22M456.18 147.08H459.18M456.18 154.22H459.18" stroke="#23272c" stroke-width="0.85" fill="none"/>
<circle cx="457.68" cy="150.65" r="1.55" fill="#9aa4ae" stroke="#3c4650" stroke-width="0.9"/>
<polyline points="361.49,161.36 367.68,162.25 375.55,161.36 381.62,158.23 386.91,153.33 392.20,143.96 397.49,139.50 402.55,137.27 409.08,133.26 414.93,137.27 423.93,140.39 434.84,140.39 445.86,141.29 456.55,143.07 465.55,143.07" fill="none" stroke="#2f6a4c" stroke-width="1.7" stroke-linejoin="round"/>
<path d="M361.49 160.46V162.25M359.99 160.46H362.99M359.99 162.25H362.99" stroke="#122a1e" stroke-width="0.85" fill="none"/>
<circle cx="361.49" cy="161.36" r="1.55" fill="#2f6a4c" stroke="#1c3f2d" stroke-width="0.6"/>
<path d="M367.68 161.36V163.14M366.18 161.36H369.18M366.18 163.14H369.18" stroke="#122a1e" stroke-width="0.85" fill="none"/>
<circle cx="367.68" cy="162.25" r="1.55" fill="#2f6a4c" stroke="#1c3f2d" stroke-width="0.6"/>
<path d="M375.55 160.46V162.25M374.05 160.46H377.05M374.05 162.25H377.05" stroke="#122a1e" stroke-width="0.85" fill="none"/>
<circle cx="375.55" cy="161.36" r="1.55" fill="#2f6a4c" stroke="#1c3f2d" stroke-width="0.6"/>
<path d="M381.62 156.90V159.57M380.12 156.90H383.12M380.12 159.57H383.12" stroke="#122a1e" stroke-width="0.85" fill="none"/>
<circle cx="381.62" cy="158.23" r="1.55" fill="#2f6a4c" stroke="#1c3f2d" stroke-width="0.6"/>
<path d="M386.91 151.54V155.11M385.41 151.54H388.41M385.41 155.11H388.41" stroke="#122a1e" stroke-width="0.85" fill="none"/>
<circle cx="386.91" cy="153.33" r="1.55" fill="#2f6a4c" stroke="#1c3f2d" stroke-width="0.6"/>
<path d="M392.20 141.73V146.19M390.70 141.73H393.70M390.70 146.19H393.70" stroke="#122a1e" stroke-width="0.85" fill="none"/>
<circle cx="392.20" cy="143.96" r="1.55" fill="#2f6a4c" stroke="#1c3f2d" stroke-width="0.6"/>
<path d="M397.49 136.83V142.18M395.99 136.83H398.99M395.99 142.18H398.99" stroke="#122a1e" stroke-width="0.85" fill="none"/>
<circle cx="397.49" cy="139.50" r="1.55" fill="#2f6a4c" stroke="#1c3f2d" stroke-width="0.6"/>
<path d="M402.55 134.60V139.95M401.05 134.60H404.05M401.05 139.95H404.05" stroke="#122a1e" stroke-width="0.85" fill="none"/>
<circle cx="402.55" cy="137.27" r="1.55" fill="#2f6a4c" stroke="#1c3f2d" stroke-width="0.6"/>
<path d="M409.08 130.58V135.93M407.58 130.58H410.58M407.58 135.93H410.58" stroke="#122a1e" stroke-width="0.85" fill="none"/>
<circle cx="409.08" cy="133.26" r="1.55" fill="#2f6a4c" stroke="#1c3f2d" stroke-width="0.6"/>
<path d="M414.93 134.60V139.95M413.43 134.60H416.43M413.43 139.95H416.43" stroke="#122a1e" stroke-width="0.85" fill="none"/>
<circle cx="414.93" cy="137.27" r="1.55" fill="#2f6a4c" stroke="#1c3f2d" stroke-width="0.6"/>
<path d="M423.93 137.72V143.07M422.43 137.72H425.43M422.43 143.07H425.43" stroke="#122a1e" stroke-width="0.85" fill="none"/>
<circle cx="423.93" cy="140.39" r="1.55" fill="#2f6a4c" stroke="#1c3f2d" stroke-width="0.6"/>
<path d="M434.84 137.72V143.07M433.34 137.72H436.34M433.34 143.07H436.34" stroke="#122a1e" stroke-width="0.85" fill="none"/>
<circle cx="434.84" cy="140.39" r="1.55" fill="#2f6a4c" stroke="#1c3f2d" stroke-width="0.6"/>
<path d="M445.86 138.61V143.96M444.36 138.61H447.36M444.36 143.96H447.36" stroke="#122a1e" stroke-width="0.85" fill="none"/>
<circle cx="445.86" cy="141.29" r="1.55" fill="#2f6a4c" stroke="#1c3f2d" stroke-width="0.6"/>
<path d="M456.55 140.39V145.75M455.05 140.39H458.05M455.05 145.75H458.05" stroke="#122a1e" stroke-width="0.85" fill="none"/>
<circle cx="456.55" cy="143.07" r="1.55" fill="#2f6a4c" stroke="#1c3f2d" stroke-width="0.6"/>
<polyline points="361.49,155.56 364.75,160.02 370.15,153.77 374.65,147.08 378.48,136.38 385.34,133.70 391.30,132.81 395.80,131.92 401.20,127.46 412.45,130.14 423.93,138.61 434.84,139.50 445.86,140.84 456.55,139.50 465.55,141.73" fill="none" stroke="#e9a93a" stroke-width="1.7" stroke-linejoin="round"/>
<path d="M361.49 153.33V157.79M359.99 153.33H362.99M359.99 157.79H362.99" stroke="#5d4317" stroke-width="0.85" fill="none"/>
<path d="M361.49 153.39L363.66 157.11L359.32 157.11Z" fill="#e9a93a" stroke="#8b6522" stroke-width="0.6"/>
<path d="M364.75 158.23V161.80M363.25 158.23H366.25M363.25 161.80H366.25" stroke="#5d4317" stroke-width="0.85" fill="none"/>
<path d="M364.75 157.85L366.92 161.57L362.58 161.57Z" fill="#e9a93a" stroke="#8b6522" stroke-width="0.6"/>
<path d="M370.15 151.99V155.56M368.65 151.99H371.65M368.65 155.56H371.65" stroke="#5d4317" stroke-width="0.85" fill="none"/>
<path d="M370.15 151.60L372.32 155.32L367.98 155.32Z" fill="#e9a93a" stroke="#8b6522" stroke-width="0.6"/>
<path d="M374.65 144.85V149.31M373.15 144.85H376.15M373.15 149.31H376.15" stroke="#5d4317" stroke-width="0.85" fill="none"/>
<path d="M374.65 144.91L376.82 148.63L372.48 148.63Z" fill="#e9a93a" stroke="#8b6522" stroke-width="0.6"/>
<path d="M378.48 133.70V139.06M376.98 133.70H379.98M376.98 139.06H379.98" stroke="#5d4317" stroke-width="0.85" fill="none"/>
<path d="M378.48 134.21L380.65 137.93L376.31 137.93Z" fill="#e9a93a" stroke="#8b6522" stroke-width="0.6"/>
<path d="M385.34 130.14V137.27M383.84 130.14H386.84M383.84 137.27H386.84" stroke="#5d4317" stroke-width="0.85" fill="none"/>
<path d="M385.34 131.53L387.51 135.25L383.17 135.25Z" fill="#e9a93a" stroke="#8b6522" stroke-width="0.6"/>
<path d="M391.30 129.24V136.38M389.80 129.24H392.80M389.80 136.38H392.80" stroke="#5d4317" stroke-width="0.85" fill="none"/>
<path d="M391.30 130.64L393.47 134.36L389.13 134.36Z" fill="#e9a93a" stroke="#8b6522" stroke-width="0.6"/>
<path d="M395.80 128.35V135.49M394.30 128.35H397.30M394.30 135.49H397.30" stroke="#5d4317" stroke-width="0.85" fill="none"/>
<path d="M395.80 129.75L397.97 133.47L393.63 133.47Z" fill="#e9a93a" stroke="#8b6522" stroke-width="0.6"/>
<path d="M401.20 123.89V131.03M399.70 123.89H402.70M399.70 131.03H402.70" stroke="#5d4317" stroke-width="0.85" fill="none"/>
<path d="M401.20 125.29L403.37 129.01L399.03 129.01Z" fill="#e9a93a" stroke="#8b6522" stroke-width="0.6"/>
<path d="M412.45 126.57V133.70M410.95 126.57H413.95M410.95 133.70H413.95" stroke="#5d4317" stroke-width="0.85" fill="none"/>
<path d="M412.45 127.97L414.62 131.69L410.28 131.69Z" fill="#e9a93a" stroke="#8b6522" stroke-width="0.6"/>
<path d="M423.93 135.49V141.73M422.43 135.49H425.43M422.43 141.73H425.43" stroke="#5d4317" stroke-width="0.85" fill="none"/>
<path d="M423.93 136.44L426.10 140.16L421.75 140.16Z" fill="#e9a93a" stroke="#8b6522" stroke-width="0.6"/>
<path d="M434.84 136.83V142.18M433.34 136.83H436.34M433.34 142.18H436.34" stroke="#5d4317" stroke-width="0.85" fill="none"/>
<path d="M434.84 137.33L437.01 141.05L432.67 141.05Z" fill="#e9a93a" stroke="#8b6522" stroke-width="0.6"/>
<path d="M445.86 138.16V143.52M444.36 138.16H447.36M444.36 143.52H447.36" stroke="#5d4317" stroke-width="0.85" fill="none"/>
<path d="M445.86 138.67L448.03 142.39L443.69 142.39Z" fill="#e9a93a" stroke="#8b6522" stroke-width="0.6"/>
<path d="M456.55 135.93V143.07M455.05 135.93H458.05M455.05 143.07H458.05" stroke="#5d4317" stroke-width="0.85" fill="none"/>
<path d="M456.55 137.33L458.72 141.05L454.38 141.05Z" fill="#e9a93a" stroke="#8b6522" stroke-width="0.6"/>
<polyline points="361.49,160.02 366.44,156.45 370.94,146.19 374.76,139.50 378.48,131.47 383.76,128.80 389.84,127.46 395.57,126.12 401.20,125.23 412.45,124.34 423.93,130.58 434.84,135.49 445.86,140.39 456.55,141.73 465.55,143.07" fill="none" stroke="#4a2a7e" stroke-width="1.7" stroke-linejoin="round"/>
<path d="M361.49 158.68V161.36M359.99 158.68H362.99M359.99 161.36H362.99" stroke="#1d1032" stroke-width="0.85" fill="none"/>
<circle cx="361.49" cy="160.02" r="1.55" fill="#4a2a7e" stroke="#2c194b" stroke-width="0.6"/>
<path d="M366.44 154.67V158.23M364.94 154.67H367.94M364.94 158.23H367.94" stroke="#1d1032" stroke-width="0.85" fill="none"/>
<circle cx="366.44" cy="156.45" r="1.55" fill="#4a2a7e" stroke="#2c194b" stroke-width="0.6"/>
<path d="M370.94 144.41V147.98M369.44 144.41H372.44M369.44 147.98H372.44" stroke="#1d1032" stroke-width="0.85" fill="none"/>
<circle cx="370.94" cy="146.19" r="1.55" fill="#4a2a7e" stroke="#2c194b" stroke-width="0.6"/>
<path d="M374.76 137.27V141.73M373.26 137.27H376.26M373.26 141.73H376.26" stroke="#1d1032" stroke-width="0.85" fill="none"/>
<circle cx="374.76" cy="139.50" r="1.55" fill="#4a2a7e" stroke="#2c194b" stroke-width="0.6"/>
<path d="M378.48 128.80V134.15M376.98 128.80H379.98M376.98 134.15H379.98" stroke="#1d1032" stroke-width="0.85" fill="none"/>
<circle cx="378.48" cy="131.47" r="1.55" fill="#4a2a7e" stroke="#2c194b" stroke-width="0.6"/>
<path d="M383.76 125.23V132.37M382.26 125.23H385.26M382.26 132.37H385.26" stroke="#1d1032" stroke-width="0.85" fill="none"/>
<circle cx="383.76" cy="128.80" r="1.55" fill="#4a2a7e" stroke="#2c194b" stroke-width="0.6"/>
<path d="M389.84 123.89V131.03M388.34 123.89H391.34M388.34 131.03H391.34" stroke="#1d1032" stroke-width="0.85" fill="none"/>
<circle cx="389.84" cy="127.46" r="1.55" fill="#4a2a7e" stroke="#2c194b" stroke-width="0.6"/>
<path d="M395.57 122.55V129.69M394.07 122.55H397.07M394.07 129.69H397.07" stroke="#1d1032" stroke-width="0.85" fill="none"/>
<circle cx="395.57" cy="126.12" r="1.55" fill="#4a2a7e" stroke="#2c194b" stroke-width="0.6"/>
<path d="M401.20 121.66V128.80M399.70 121.66H402.70M399.70 128.80H402.70" stroke="#1d1032" stroke-width="0.85" fill="none"/>
<circle cx="401.20" cy="125.23" r="1.55" fill="#4a2a7e" stroke="#2c194b" stroke-width="0.6"/>
<path d="M412.45 115.86V132.81M410.95 115.86H413.95M410.95 132.81H413.95" stroke="#1d1032" stroke-width="0.85" fill="none"/>
<circle cx="412.45" cy="124.34" r="1.55" fill="#4a2a7e" stroke="#2c194b" stroke-width="0.6"/>
<path d="M423.93 127.91V133.26M422.43 127.91H425.43M422.43 133.26H425.43" stroke="#1d1032" stroke-width="0.85" fill="none"/>
<circle cx="423.93" cy="130.58" r="1.55" fill="#4a2a7e" stroke="#2c194b" stroke-width="0.6"/>
<path d="M434.84 132.81V138.16M433.34 132.81H436.34M433.34 138.16H436.34" stroke="#1d1032" stroke-width="0.85" fill="none"/>
<circle cx="434.84" cy="135.49" r="1.55" fill="#4a2a7e" stroke="#2c194b" stroke-width="0.6"/>
<path d="M445.86 138.16V142.62M444.36 138.16H447.36M444.36 142.62H447.36" stroke="#1d1032" stroke-width="0.85" fill="none"/>
<circle cx="445.86" cy="140.39" r="1.55" fill="#4a2a7e" stroke="#2c194b" stroke-width="0.6"/>
<path d="M456.55 139.06V144.41M455.05 139.06H458.05M455.05 144.41H458.05" stroke="#1d1032" stroke-width="0.85" fill="none"/>
<circle cx="456.55" cy="141.73" r="1.55" fill="#4a2a7e" stroke="#2c194b" stroke-width="0.6"/>
<line x1="379" y1="61.2" x2="387" y2="61.2" stroke="#59636e" stroke-width="1.4"/>
<circle cx="383.00" cy="61.20" r="1.5" fill="#9aa4ae" stroke="#3c4650" stroke-width="0.9"/>
<text x="390" y="63.300000000000004" font-size="6.0" text-anchor="start" font-weight="normal" fill="#111" textLength="68.7" lengthAdjust="spacingAndGlyphs" stroke="#222" stroke-width="0.06">Placebo [Cohorts 4-6] (N=9)</text>
<line x1="379" y1="70.65" x2="387" y2="70.65" stroke="#4a2a7e" stroke-width="1.4"/>
<circle cx="383.00" cy="70.65" r="1.5" fill="#4a2a7e" stroke="#2c194b" stroke-width="0.6"/>
<text x="390" y="72.75" font-size="6.0" text-anchor="start" font-weight="normal" fill="#111" textLength="95.4" lengthAdjust="spacingAndGlyphs" stroke="#222" stroke-width="0.06">420 mg/4 mg x 45 min [Cohort 4] (N=6)</text>
<line x1="379" y1="80.1" x2="387" y2="80.1" stroke="#e9a93a" stroke-width="1.4"/>
<path d="M383.00 78.00L385.10 81.60L380.90 81.60Z" fill="#e9a93a" stroke="#8b6522" stroke-width="0.6"/>
<text x="390" y="82.19999999999999" font-size="6.0" text-anchor="start" font-weight="normal" fill="#111" textLength="95.4" lengthAdjust="spacingAndGlyphs" stroke="#222" stroke-width="0.06">420 mg/180 mg bolus [Cohort 5] (N=6)</text>
<line x1="379" y1="89.55" x2="387" y2="89.55" stroke="#2f6a4c" stroke-width="1.4"/>
<circle cx="383.00" cy="89.55" r="1.5" fill="#2f6a4c" stroke="#1c3f2d" stroke-width="0.6"/>
<text x="390" y="91.64999999999999" font-size="6.0" text-anchor="start" font-weight="normal" fill="#111" textLength="86.9" lengthAdjust="spacingAndGlyphs" stroke="#222" stroke-width="0.06">420 mg/4 mg x 2 h [Cohort 6] (N=6)</text>
<text x="7.8" y="221.2" font-size="11" text-anchor="start" font-weight="bold" fill="#000" stroke="#222" stroke-width="0.06">C</text>
<rect x="47" y="290.2" width="155.2" height="24.400000000000034" fill="#e6e6e6"/>
<rect x="47" y="290.2" width="155.2" height="6" fill="#d3d3d3"/>
<rect x="47" y="308.6" width="155.2" height="6" fill="#d9d9d9"/>
<text x="79" y="238.3" font-size="6.2" text-anchor="middle" font-weight="normal" fill="#111" textLength="32.9" lengthAdjust="spacingAndGlyphs" stroke="#222" stroke-width="0.06">End of Bolus</text>
<path d="M79.0 243V247.5" stroke="#111" stroke-width="1"/>
<path d="M76.8 245.9L81.2 245.9L79.0 251.5Z" fill="#111"/>
<line x1="79.0" y1="253" x2="79.0" y2="357.4" stroke="#606060" stroke-width="1.1"/>
<line x1="46.1" y1="253.5" x2="46.1" y2="357.9" stroke="#000" stroke-width="1.2"/>
<line x1="43.300000000000004" y1="357.4" x2="46.1" y2="357.4" stroke="#000" stroke-width="1"/>
<text x="40.3" y="359.65" font-size="6.5" text-anchor="end" font-weight="normal" fill="#111" stroke="#222" stroke-width="0.06">0</text>
<line x1="43.300000000000004" y1="336.72999999999996" x2="46.1" y2="336.72999999999996" stroke="#000" stroke-width="1"/>
<text x="40.3" y="338.97999999999996" font-size="6.5" text-anchor="end" font-weight="normal" fill="#111" textLength="21.2" lengthAdjust="spacingAndGlyphs" stroke="#222" stroke-width="0.06">100000</text>
<line x1="43.300000000000004" y1="316.05999999999995" x2="46.1" y2="316.05999999999995" stroke="#000" stroke-width="1"/>
<text x="40.3" y="318.30999999999995" font-size="6.5" text-anchor="end" font-weight="normal" fill="#111" textLength="21.2" lengthAdjust="spacingAndGlyphs" stroke="#222" stroke-width="0.06">200000</text>
<line x1="43.300000000000004" y1="295.39" x2="46.1" y2="295.39" stroke="#000" stroke-width="1"/>
<text x="40.3" y="297.64" font-size="6.5" text-anchor="end" font-weight="normal" fill="#111" textLength="21.2" lengthAdjust="spacingAndGlyphs" stroke="#222" stroke-width="0.06">300000</text>
<line x1="43.300000000000004" y1="274.71999999999997" x2="46.1" y2="274.71999999999997" stroke="#000" stroke-width="1"/>
<text x="40.3" y="276.96999999999997" font-size="6.5" text-anchor="end" font-weight="normal" fill="#111" textLength="21.2" lengthAdjust="spacingAndGlyphs" stroke="#222" stroke-width="0.06">400000</text>
<line x1="43.300000000000004" y1="254.04999999999995" x2="46.1" y2="254.04999999999995" stroke="#000" stroke-width="1"/>
<text x="40.3" y="256.29999999999995" font-size="6.5" text-anchor="end" font-weight="normal" fill="#111" textLength="21.2" lengthAdjust="spacingAndGlyphs" stroke="#222" stroke-width="0.06">500000</text>
<line x1="46.1" y1="357.4" x2="61.8" y2="357.4" stroke="#000" stroke-width="1.2"/>
<line x1="61.8" y1="355.2" x2="61.8" y2="359.59999999999997" stroke="#000" stroke-width="1"/>
<line x1="52.2" y1="357.4" x2="52.2" y2="360.0" stroke="#000" stroke-width="1"/>
<line x1="66.4" y1="357.4" x2="203" y2="357.4" stroke="#000" stroke-width="1.2"/>
<line x1="66.4" y1="355.2" x2="66.4" y2="359.59999999999997" stroke="#000" stroke-width="1"/>
<line x1="72.9" y1="357.4" x2="72.9" y2="360.0" stroke="#000" stroke-width="1"/>
<text x="52.2" y="369.3" font-size="6.3" text-anchor="middle" font-weight="normal" fill="#111" textLength="22.5" lengthAdjust="spacingAndGlyphs" stroke="#222" stroke-width="0.06">Baseline</text>
<line x1="79.0" y1="357.4" x2="79.0" y2="360.0" stroke="#000" stroke-width="1"/>
<text x="79.0" y="369.3" font-size="6.3" text-anchor="middle" font-weight="normal" fill="#111" stroke="#222" stroke-width="0.06">0</text>
<line x1="103.45" y1="357.4" x2="103.45" y2="360.0" stroke="#000" stroke-width="1"/>
<text x="103.45" y="369.3" font-size="6.3" text-anchor="middle" font-weight="normal" fill="#111" stroke="#222" stroke-width="0.06">1</text>
<line x1="127.9" y1="357.4" x2="127.9" y2="360.0" stroke="#000" stroke-width="1"/>
<text x="127.9" y="369.3" font-size="6.3" text-anchor="middle" font-weight="normal" fill="#111" stroke="#222" stroke-width="0.06">2</text>
<line x1="152.35" y1="357.4" x2="152.35" y2="360.0" stroke="#000" stroke-width="1"/>
<text x="152.35" y="369.3" font-size="6.3" text-anchor="middle" font-weight="normal" fill="#111" stroke="#222" stroke-width="0.06">3</text>
<line x1="176.8" y1="357.4" x2="176.8" y2="360.0" stroke="#000" stroke-width="1"/>
<text x="176.8" y="369.3" font-size="6.3" text-anchor="middle" font-weight="normal" fill="#111" stroke="#222" stroke-width="0.06">4</text>
<line x1="201.25" y1="357.4" x2="201.25" y2="360.0" stroke="#000" stroke-width="1"/>
<text x="201.25" y="369.3" font-size="6.3" text-anchor="middle" font-weight="normal" fill="#111" stroke="#222" stroke-width="0.06">5</text>
<text x="125.6" y="380.7" font-size="6.8" text-anchor="middle" font-weight="normal" fill="#111" textLength="49.3" lengthAdjust="spacingAndGlyphs" stroke="#222" stroke-width="0.06">Time after bolus (h)</text>
<text x="13.0" y="304.3" font-size="6.8" text-anchor="middle" font-weight="normal" fill="#111" transform="rotate(-90 13.0 304.3)" textLength="63.6" lengthAdjust="spacingAndGlyphs" stroke="#222" stroke-width="0.06">Thrombin generation (rfu)</text>
<path d="M205.6 290.6H209.2M207.4 290.6V313.6M205.6 313.6H209.2" stroke="#111" stroke-width="0.9" fill="none"/>
<text x="211" y="300.9" font-size="6.0" text-anchor="start" font-weight="normal" fill="#111" textLength="41.8" lengthAdjust="spacingAndGlyphs" stroke="#222" stroke-width="0.06">Pre-anticoagulant</text>
<text x="211" y="308.3" font-size="6.0" text-anchor="start" font-weight="normal" fill="#111" textLength="47.5" lengthAdjust="spacingAndGlyphs" stroke="#222" stroke-width="0.06">range (Mean ± 2SD)</text>
<polyline points="52.20,297.46 61.20,312.96" fill="none" stroke="#4f5a66" stroke-width="1.7" stroke-linejoin="round"/>
<path d="M52.20 294.36V300.56M50.70 294.36H53.70M50.70 300.56H53.70" stroke="#1f2428" stroke-width="0.85" fill="none"/>
<circle cx="52.20" cy="297.46" r="1.35" fill="#2b3138" stroke="#191d21" stroke-width="0.6"/>
<polyline points="67.00,326.39 72.90,338.18 79.00,332.39 83.16,332.39 91.22,331.56 103.45,331.98 115.67,332.39 127.90,328.88 140.12,327.43 152.35,325.57 164.57,322.67 189.02,326.19 201.25,324.12" fill="none" stroke="#4f5a66" stroke-width="1.7" stroke-linejoin="round"/>
<path d="M72.90 336.52V339.83M71.40 336.52H74.40M71.40 339.83H74.40" stroke="#1f2428" stroke-width="0.85" fill="none"/>
<circle cx="72.90" cy="338.18" r="1.35" fill="#2b3138" stroke="#191d21" stroke-width="0.6"/>
<path d="M79.00 330.74V334.04M77.50 330.74H80.50M77.50 334.04H80.50" stroke="#1f2428" stroke-width="0.85" fill="none"/>
<circle cx="79.00" cy="332.39" r="1.35" fill="#2b3138" stroke="#191d21" stroke-width="0.6"/>
<path d="M83.16 331.36V333.42M81.66 331.36H84.66M81.66 333.42H84.66" stroke="#1f2428" stroke-width="0.85" fill="none"/>
<circle cx="83.16" cy="332.39" r="1.35" fill="#2b3138" stroke="#191d21" stroke-width="0.6"/>
<path d="M91.22 330.53V332.60M89.72 330.53H92.72M89.72 332.60H92.72" stroke="#1f2428" stroke-width="0.85" fill="none"/>
<circle cx="91.22" cy="331.56" r="1.35" fill="#2b3138" stroke="#191d21" stroke-width="0.6"/>
<path d="M103.45 330.94V333.01M101.95 330.94H104.95M101.95 333.01H104.95" stroke="#1f2428" stroke-width="0.85" fill="none"/>
<circle cx="103.45" cy="331.98" r="1.35" fill="#2b3138" stroke="#191d21" stroke-width="0.6"/>
<path d="M115.67 331.36V333.42M114.17 331.36H117.17M114.17 333.42H117.17" stroke="#1f2428" stroke-width="0.85" fill="none"/>
<circle cx="115.67" cy="332.39" r="1.35" fill="#2b3138" stroke="#191d21" stroke-width="0.6"/>
<path d="M127.90 327.22V330.53M126.40 327.22H129.40M126.40 330.53H129.40" stroke="#1f2428" stroke-width="0.85" fill="none"/>
<circle cx="127.90" cy="328.88" r="1.35" fill="#2b3138" stroke="#191d21" stroke-width="0.6"/>
<path d="M140.12 325.77V329.08M138.62 325.77H141.62M138.62 329.08H141.62" stroke="#1f2428" stroke-width="0.85" fill="none"/>
<circle cx="140.12" cy="327.43" r="1.35" fill="#2b3138" stroke="#191d21" stroke-width="0.6"/>
<path d="M152.35 323.91V327.22M150.85 323.91H153.85M150.85 327.22H153.85" stroke="#1f2428" stroke-width="0.85" fill="none"/>
<circle cx="152.35" cy="325.57" r="1.35" fill="#2b3138" stroke="#191d21" stroke-width="0.6"/>
<path d="M164.57 321.02V324.33M163.07 321.02H166.07M163.07 324.33H166.07" stroke="#1f2428" stroke-width="0.85" fill="none"/>
<circle cx="164.57" cy="322.67" r="1.35" fill="#2b3138" stroke="#191d21" stroke-width="0.6"/>
<path d="M189.02 324.53V327.84M187.52 324.53H190.52M187.52 327.84H190.52" stroke="#1f2428" stroke-width="0.85" fill="none"/>
<circle cx="189.02" cy="326.19" r="1.35" fill="#2b3138" stroke="#191d21" stroke-width="0.6"/>
<polyline points="52.20,306.35 61.20,320.61" fill="none" stroke="#35508a" stroke-width="1.7" stroke-linejoin="round"/>
<path d="M52.20 303.86V308.83M50.70 303.86H53.70M50.70 308.83H53.70" stroke="#152037" stroke-width="0.85" fill="none"/>
<path d="M52.20 304.59L53.96 306.35L52.20 308.10L50.45 306.35Z" fill="#1d2c4b" stroke="#111a2d" stroke-width="0.6"/>
<polyline points="67.00,328.46 72.90,338.59 79.00,308.00 83.16,306.76 91.22,316.68 103.45,323.29 115.67,325.57 127.90,322.67 140.12,326.19 152.35,324.74 164.57,322.05 189.02,324.12 201.25,324.12" fill="none" stroke="#35508a" stroke-width="1.7" stroke-linejoin="round"/>
<path d="M72.90 336.52V340.66M71.40 336.52H74.40M71.40 340.66H74.40" stroke="#152037" stroke-width="0.85" fill="none"/>
<path d="M72.90 336.84L74.66 338.59L72.90 340.35L71.15 338.59Z" fill="#1d2c4b" stroke="#111a2d" stroke-width="0.6"/>
<path d="M79.00 302.83V313.17M77.50 302.83H80.50M77.50 313.17H80.50" stroke="#152037" stroke-width="0.85" fill="none"/>
<path d="M79.00 306.24L80.75 308.00L79.00 309.75L77.25 308.00Z" fill="#1d2c4b" stroke="#111a2d" stroke-width="0.6"/>
<path d="M83.16 303.04V310.48M81.66 303.04H84.66M81.66 310.48H84.66" stroke="#152037" stroke-width="0.85" fill="none"/>
<path d="M83.16 305.00L84.91 306.76L83.16 308.51L81.40 306.76Z" fill="#1d2c4b" stroke="#111a2d" stroke-width="0.6"/>
<path d="M91.22 312.55V320.81M89.72 312.55H92.72M89.72 320.81H92.72" stroke="#152037" stroke-width="0.85" fill="none"/>
<path d="M91.22 314.93L92.98 316.68L91.22 318.44L89.47 316.68Z" fill="#1d2c4b" stroke="#111a2d" stroke-width="0.6"/>
<path d="M103.45 319.57V327.02M101.95 319.57H104.95M101.95 327.02H104.95" stroke="#152037" stroke-width="0.85" fill="none"/>
<path d="M103.45 321.54L105.20 323.29L103.45 325.05L101.70 323.29Z" fill="#1d2c4b" stroke="#111a2d" stroke-width="0.6"/>
<path d="M115.67 321.43V329.70M114.17 321.43H117.17M114.17 329.70H117.17" stroke="#152037" stroke-width="0.85" fill="none"/>
<path d="M115.67 323.81L117.43 325.57L115.67 327.32L113.92 325.57Z" fill="#1d2c4b" stroke="#111a2d" stroke-width="0.6"/>
<path d="M127.90 318.95V326.39M126.40 318.95H129.40M126.40 326.39H129.40" stroke="#152037" stroke-width="0.85" fill="none"/>
<path d="M127.90 320.92L129.66 322.67L127.90 324.43L126.15 322.67Z" fill="#1d2c4b" stroke="#111a2d" stroke-width="0.6"/>
<path d="M140.12 323.09V329.29M138.62 323.09H141.62M138.62 329.29H141.62" stroke="#152037" stroke-width="0.85" fill="none"/>
<path d="M140.12 324.43L141.88 326.19L140.12 327.94L138.37 326.19Z" fill="#1d2c4b" stroke="#111a2d" stroke-width="0.6"/>
<path d="M152.35 321.64V327.84M150.85 321.64H153.85M150.85 327.84H153.85" stroke="#152037" stroke-width="0.85" fill="none"/>
<path d="M152.35 322.99L154.10 324.74L152.35 326.50L150.59 324.74Z" fill="#1d2c4b" stroke="#111a2d" stroke-width="0.6"/>
<path d="M164.57 318.95V325.15M163.07 318.95H166.07M163.07 325.15H166.07" stroke="#152037" stroke-width="0.85" fill="none"/>
<path d="M164.57 320.30L166.33 322.05L164.57 323.81L162.82 322.05Z" fill="#1d2c4b" stroke="#111a2d" stroke-width="0.6"/>
<path d="M189.02 321.64V326.60M187.52 321.64H190.52M187.52 326.60H190.52" stroke="#152037" stroke-width="0.85" fill="none"/>
<path d="M189.02 322.37L190.78 324.12L189.02 325.88L187.27 324.12Z" fill="#1d2c4b" stroke="#111a2d" stroke-width="0.6"/>
<polyline points="52.20,302.21 61.20,316.06" fill="none" stroke="#a3203f" stroke-width="1.7" stroke-linejoin="round"/>
<path d="M52.20 299.11V305.31M50.70 299.11H53.70M50.70 305.31H53.70" stroke="#410c19" stroke-width="0.85" fill="none"/>
<rect x="50.85" y="300.86" width="2.7" height="2.7" fill="#591122" stroke="#350a14" stroke-width="0.6"/>
<polyline points="67.00,324.33 72.90,329.50 79.00,311.31 83.16,312.55 91.22,315.23 103.45,317.92 115.67,317.09 127.90,317.09 140.12,320.61 152.35,316.68 164.57,313.99 189.02,315.23 201.25,317.09" fill="none" stroke="#a3203f" stroke-width="1.7" stroke-linejoin="round"/>
<path d="M72.90 326.39V332.60M71.40 326.39H74.40M71.40 332.60H74.40" stroke="#410c19" stroke-width="0.85" fill="none"/>
<rect x="71.55" y="328.15" width="2.7" height="2.7" fill="#591122" stroke="#350a14" stroke-width="0.6"/>
<path d="M79.00 306.14V316.47M77.50 306.14H80.50M77.50 316.47H80.50" stroke="#410c19" stroke-width="0.85" fill="none"/>
<rect x="77.65" y="309.96" width="2.7" height="2.7" fill="#591122" stroke="#350a14" stroke-width="0.6"/>
<path d="M83.16 308.41V316.68M81.66 308.41H84.66M81.66 316.68H84.66" stroke="#410c19" stroke-width="0.85" fill="none"/>
<rect x="81.81" y="311.20" width="2.7" height="2.7" fill="#591122" stroke="#350a14" stroke-width="0.6"/>
<path d="M91.22 312.13V318.33M89.72 312.13H92.72M89.72 318.33H92.72" stroke="#410c19" stroke-width="0.85" fill="none"/>
<rect x="89.88" y="313.88" width="2.7" height="2.7" fill="#591122" stroke="#350a14" stroke-width="0.6"/>
<path d="M103.45 314.20V321.64M101.95 314.20H104.95M101.95 321.64H104.95" stroke="#410c19" stroke-width="0.85" fill="none"/>
<rect x="102.10" y="316.57" width="2.7" height="2.7" fill="#591122" stroke="#350a14" stroke-width="0.6"/>
<path d="M115.67 313.79V320.40M114.17 313.79H117.17M114.17 320.40H117.17" stroke="#410c19" stroke-width="0.85" fill="none"/>
<rect x="114.33" y="315.74" width="2.7" height="2.7" fill="#591122" stroke="#350a14" stroke-width="0.6"/>
<path d="M127.90 313.99V320.19M126.40 313.99H129.40M126.40 320.19H129.40" stroke="#410c19" stroke-width="0.85" fill="none"/>
<rect x="126.55" y="315.74" width="2.7" height="2.7" fill="#591122" stroke="#350a14" stroke-width="0.6"/>
<path d="M140.12 317.51V323.71M138.62 317.51H141.62M138.62 323.71H141.62" stroke="#410c19" stroke-width="0.85" fill="none"/>
<rect x="138.78" y="319.26" width="2.7" height="2.7" fill="#591122" stroke="#350a14" stroke-width="0.6"/>
<path d="M152.35 313.58V319.78M150.85 313.58H153.85M150.85 319.78H153.85" stroke="#410c19" stroke-width="0.85" fill="none"/>
<rect x="151.00" y="315.33" width="2.7" height="2.7" fill="#591122" stroke="#350a14" stroke-width="0.6"/>
<path d="M164.57 310.89V317.09M163.07 310.89H166.07M163.07 317.09H166.07" stroke="#410c19" stroke-width="0.85" fill="none"/>
<rect x="163.22" y="312.64" width="2.7" height="2.7" fill="#591122" stroke="#350a14" stroke-width="0.6"/>
<path d="M189.02 312.13V318.33M187.52 312.13H190.52M187.52 318.33H190.52" stroke="#410c19" stroke-width="0.85" fill="none"/>
<rect x="187.67" y="313.88" width="2.7" height="2.7" fill="#591122" stroke="#350a14" stroke-width="0.6"/>
<polyline points="52.20,296.42 61.20,309.24" fill="none" stroke="#78b445" stroke-width="1.7" stroke-linejoin="round"/>
<path d="M52.20 292.70V300.14M50.70 292.70H53.70M50.70 300.14H53.70" stroke="#30481b" stroke-width="0.85" fill="none"/>
<path d="M52.20 294.53L54.09 297.77L50.31 297.77Z" fill="#426325" stroke="#273b16" stroke-width="0.6"/>
<polyline points="67.00,313.37 72.90,319.57 79.00,295.39 83.16,282.99 91.22,290.22 103.45,300.56 115.67,309.86 127.90,312.55 140.12,315.23 152.35,312.55 164.57,312.96 189.02,308.00 201.25,305.93" fill="none" stroke="#78b445" stroke-width="1.7" stroke-linejoin="round"/>
<path d="M72.90 312.34V326.81M71.40 312.34H74.40M71.40 326.81H74.40" stroke="#30481b" stroke-width="0.85" fill="none"/>
<path d="M72.90 317.68L74.79 320.92L71.01 320.92Z" fill="#426325" stroke="#273b16" stroke-width="0.6"/>
<path d="M79.00 293.50L80.89 296.74L77.11 296.74Z" fill="#426325" stroke="#273b16" stroke-width="0.6"/>
<path d="M83.16 273.69V292.29M81.66 273.69H84.66M81.66 292.29H84.66" stroke="#30481b" stroke-width="0.85" fill="none"/>
<path d="M83.16 281.10L85.05 284.34L81.27 284.34Z" fill="#426325" stroke="#273b16" stroke-width="0.6"/>
<path d="M91.22 284.43V296.01M89.72 284.43H92.72M89.72 296.01H92.72" stroke="#30481b" stroke-width="0.85" fill="none"/>
<path d="M91.22 288.33L93.11 291.57L89.33 291.57Z" fill="#426325" stroke="#273b16" stroke-width="0.6"/>
<path d="M103.45 294.36V306.76M101.95 294.36H104.95M101.95 306.76H104.95" stroke="#30481b" stroke-width="0.85" fill="none"/>
<path d="M103.45 298.67L105.34 301.91L101.56 301.91Z" fill="#426325" stroke="#273b16" stroke-width="0.6"/>
<path d="M115.67 304.69V315.03M114.17 304.69H117.17M114.17 315.03H117.17" stroke="#30481b" stroke-width="0.85" fill="none"/>
<path d="M115.67 307.97L117.56 311.21L113.78 311.21Z" fill="#426325" stroke="#273b16" stroke-width="0.6"/>
<path d="M127.90 308.41V316.68M126.40 308.41H129.40M126.40 316.68H129.40" stroke="#30481b" stroke-width="0.85" fill="none"/>
<path d="M127.90 310.66L129.79 313.90L126.01 313.90Z" fill="#426325" stroke="#273b16" stroke-width="0.6"/>
<path d="M140.12 310.69V319.78M138.62 310.69H141.62M138.62 319.78H141.62" stroke="#30481b" stroke-width="0.85" fill="none"/>
<path d="M140.12 313.34L142.01 316.58L138.24 316.58Z" fill="#426325" stroke="#273b16" stroke-width="0.6"/>
<path d="M152.35 308.00V317.09M150.85 308.00H153.85M150.85 317.09H153.85" stroke="#30481b" stroke-width="0.85" fill="none"/>
<path d="M152.35 310.66L154.24 313.90L150.46 313.90Z" fill="#426325" stroke="#273b16" stroke-width="0.6"/>
<path d="M164.57 307.79V318.13M163.07 307.79H166.07M163.07 318.13H166.07" stroke="#30481b" stroke-width="0.85" fill="none"/>
<path d="M164.57 311.07L166.46 314.31L162.69 314.31Z" fill="#426325" stroke="#273b16" stroke-width="0.6"/>
<path d="M189.02 298.70V317.30M187.52 298.70H190.52M187.52 317.30H190.52" stroke="#30481b" stroke-width="0.85" fill="none"/>
<path d="M189.02 306.11L190.91 309.35L187.13 309.35Z" fill="#426325" stroke="#273b16" stroke-width="0.6"/>
<line x1="132" y1="249.3" x2="140.5" y2="249.3" stroke="#4f5a66" stroke-width="1.4"/>
<circle cx="136.20" cy="249.30" r="1.5" fill="#4f5a66" stroke="#2f363d" stroke-width="0.6"/>
<text x="142.6" y="251.4" font-size="6.0" text-anchor="start" font-weight="normal" fill="#111" textLength="69.5" lengthAdjust="spacingAndGlyphs" stroke="#222" stroke-width="0.06">Placebo [Cohorts 1-3] (N=9)</text>
<line x1="132" y1="257.45" x2="140.5" y2="257.45" stroke="#a3203f" stroke-width="1.4"/>
<rect x="134.70" y="255.95" width="3.0" height="3.0" fill="#a3203f" stroke="#611325" stroke-width="0.6"/>
<text x="142.6" y="259.55" font-size="6.0" text-anchor="start" font-weight="normal" fill="#111" textLength="72.2" lengthAdjust="spacingAndGlyphs" stroke="#222" stroke-width="0.06">90 mg bolus [Cohort 1] (N=6)</text>
<line x1="132" y1="265.6" x2="140.5" y2="265.6" stroke="#35508a" stroke-width="1.4"/>
<path d="M136.20 263.65L138.15 265.60L136.20 267.55L134.25 265.60Z" fill="#35508a" stroke="#1f3052" stroke-width="0.6"/>
<text x="142.6" y="267.70000000000005" font-size="6.0" text-anchor="start" font-weight="normal" fill="#111" textLength="75.9" lengthAdjust="spacingAndGlyphs" stroke="#222" stroke-width="0.06">210 mg bolus [Cohort 2] (N=6)</text>
<line x1="132" y1="273.75" x2="140.5" y2="273.75" stroke="#78b445" stroke-width="1.4"/>
<path d="M136.20 271.65L138.30 275.25L134.10 275.25Z" fill="#78b445" stroke="#486c29" stroke-width="0.6"/>
<text x="142.6" y="275.85" font-size="6.0" text-anchor="start" font-weight="normal" fill="#111" textLength="75.9" lengthAdjust="spacingAndGlyphs" stroke="#222" stroke-width="0.06">420 mg bolus [Cohort 3] (N=6)</text>
<text x="269.9" y="221.2" font-size="11" text-anchor="start" font-weight="bold" fill="#000" stroke="#222" stroke-width="0.06">D</text>
<rect x="312.5" y="299.6" width="143.0" height="23.599999999999966" fill="#e6e6e6"/>
<rect x="312.5" y="299.6" width="143.0" height="5.6" fill="#d3d3d3"/>
<rect x="312.5" y="317.6" width="143.0" height="5.6" fill="#d9d9d9"/>
<text x="330.4" y="252.5" font-size="6.2" text-anchor="middle" font-weight="normal" fill="#111" textLength="33.2" lengthAdjust="spacingAndGlyphs" stroke="#222" stroke-width="0.06">End of Bolus</text>
<path d="M338.9 254V260" stroke="#111" stroke-width="1"/>
<path d="M336.7 258.4L341.09999999999997 258.4L338.9 264Z" fill="#111"/>
<line x1="338.9" y1="265.5" x2="338.9" y2="363.8" stroke="#606060" stroke-width="1.1"/>
<text x="345" y="243.0" font-size="6.2" text-anchor="start" font-weight="normal" fill="#111" textLength="124.4" lengthAdjust="spacingAndGlyphs" stroke="#222" stroke-width="0.06">End of Infusion (Cohort 4)/2nd Bolus (Cohort 5)</text>
<path d="M356.2625 245.5V260" stroke="#111" stroke-width="1"/>
<path d="M354.0625 258.4L358.4625 258.4L356.2625 264Z" fill="#111"/>
<line x1="356.2625" y1="265.5" x2="356.2625" y2="363.8" stroke="#606060" stroke-width="1.1"/>
<text x="381.8" y="252.5" font-size="6.2" text-anchor="start" font-weight="normal" fill="#111" textLength="66.0" lengthAdjust="spacingAndGlyphs" stroke="#222" stroke-width="0.06">End of Infusion (Cohort 6)</text>
<path d="M385.2 254V260" stroke="#111" stroke-width="1"/>
<path d="M383.0 258.4L387.4 258.4L385.2 264Z" fill="#111"/>
<line x1="385.2" y1="265.5" x2="385.2" y2="363.8" stroke="#606060" stroke-width="1.1"/>
<line x1="308.3" y1="264" x2="308.3" y2="364.3" stroke="#000" stroke-width="1.2"/>
<line x1="305.5" y1="363.8" x2="308.3" y2="363.8" stroke="#000" stroke-width="1"/>
<text x="302.2" y="366.05" font-size="6.5" text-anchor="end" font-weight="normal" fill="#111" stroke="#222" stroke-width="0.06">0</text>
<line x1="305.5" y1="344.24" x2="308.3" y2="344.24" stroke="#000" stroke-width="1"/>
<text x="302.2" y="346.49" font-size="6.5" text-anchor="end" font-weight="normal" fill="#111" textLength="21.2" lengthAdjust="spacingAndGlyphs" stroke="#222" stroke-width="0.06">100000</text>
<line x1="305.5" y1="324.68" x2="308.3" y2="324.68" stroke="#000" stroke-width="1"/>
<text x="302.2" y="326.93" font-size="6.5" text-anchor="end" font-weight="normal" fill="#111" textLength="21.2" lengthAdjust="spacingAndGlyphs" stroke="#222" stroke-width="0.06">200000</text>
<line x1="305.5" y1="305.12" x2="308.3" y2="305.12" stroke="#000" stroke-width="1"/>
<text x="302.2" y="307.37" font-size="6.5" text-anchor="end" font-weight="normal" fill="#111" textLength="21.2" lengthAdjust="spacingAndGlyphs" stroke="#222" stroke-width="0.06">300000</text>
<line x1="305.5" y1="285.56" x2="308.3" y2="285.56" stroke="#000" stroke-width="1"/>
<text x="302.2" y="287.81" font-size="6.5" text-anchor="end" font-weight="normal" fill="#111" textLength="21.2" lengthAdjust="spacingAndGlyphs" stroke="#222" stroke-width="0.06">400000</text>
<line x1="305.5" y1="266.0" x2="308.3" y2="266.0" stroke="#000" stroke-width="1"/>
<text x="302.2" y="268.25" font-size="6.5" text-anchor="end" font-weight="normal" fill="#111" textLength="21.2" lengthAdjust="spacingAndGlyphs" stroke="#222" stroke-width="0.06">500000</text>
<line x1="308.3" y1="363.8" x2="322.5" y2="363.8" stroke="#000" stroke-width="1.2"/>
<line x1="322.5" y1="361.6" x2="322.5" y2="366.0" stroke="#000" stroke-width="1"/>
<line x1="313.8" y1="363.8" x2="313.8" y2="366.40000000000003" stroke="#000" stroke-width="1"/>
<line x1="326.3" y1="363.8" x2="458" y2="363.8" stroke="#000" stroke-width="1.2"/>
<line x1="326.3" y1="361.6" x2="326.3" y2="366.0" stroke="#000" stroke-width="1"/>
<line x1="332.6" y1="363.8" x2="332.6" y2="366.40000000000003" stroke="#000" stroke-width="1"/>
<line x1="356.2625" y1="363.8" x2="356.2625" y2="366.40000000000003" stroke="#000" stroke-width="1"/>
<text x="313.8" y="375.5" font-size="6.3" text-anchor="middle" font-weight="normal" fill="#111" textLength="22.5" lengthAdjust="spacingAndGlyphs" stroke="#222" stroke-width="0.06">Baseline</text>
<line x1="338.9" y1="363.8" x2="338.9" y2="366.40000000000003" stroke="#000" stroke-width="1"/>
<text x="338.9" y="375.5" font-size="6.3" text-anchor="middle" font-weight="normal" fill="#111" stroke="#222" stroke-width="0.06">0</text>
<line x1="362.04999999999995" y1="363.8" x2="362.04999999999995" y2="366.40000000000003" stroke="#000" stroke-width="1"/>
<text x="362.04999999999995" y="375.5" font-size="6.3" text-anchor="middle" font-weight="normal" fill="#111" stroke="#222" stroke-width="0.06">1</text>
<line x1="385.2" y1="363.8" x2="385.2" y2="366.40000000000003" stroke="#000" stroke-width="1"/>
<text x="385.2" y="375.5" font-size="6.3" text-anchor="middle" font-weight="normal" fill="#111" stroke="#222" stroke-width="0.06">2</text>
<line x1="408.34999999999997" y1="363.8" x2="408.34999999999997" y2="366.40000000000003" stroke="#000" stroke-width="1"/>
<text x="408.34999999999997" y="375.5" font-size="6.3" text-anchor="middle" font-weight="normal" fill="#111" stroke="#222" stroke-width="0.06">3</text>
<line x1="431.5" y1="363.8" x2="431.5" y2="366.40000000000003" stroke="#000" stroke-width="1"/>
<text x="431.5" y="375.5" font-size="6.3" text-anchor="middle" font-weight="normal" fill="#111" stroke="#222" stroke-width="0.06">4</text>
<line x1="454.65" y1="363.8" x2="454.65" y2="366.40000000000003" stroke="#000" stroke-width="1"/>
<text x="454.65" y="375.5" font-size="6.3" text-anchor="middle" font-weight="normal" fill="#111" stroke="#222" stroke-width="0.06">5</text>
<text x="383.5" y="386.5" font-size="6.8" text-anchor="middle" font-weight="normal" fill="#111" textLength="49.0" lengthAdjust="spacingAndGlyphs" stroke="#222" stroke-width="0.06">Time after bolus (h)</text>
<text x="276.3" y="313.2" font-size="6.8" text-anchor="middle" font-weight="normal" fill="#111" transform="rotate(-90 276.3 313.2)" textLength="63.6" lengthAdjust="spacingAndGlyphs" stroke="#222" stroke-width="0.06">Thrombin generation (rfu)</text>
<path d="M458.8 300.5H462.4M460.6 300.5V322.6M458.8 322.6H462.4" stroke="#111" stroke-width="0.9" fill="none"/>
<text x="464.5" y="310" font-size="6.0" text-anchor="start" font-weight="normal" fill="#111" textLength="43.0" lengthAdjust="spacingAndGlyphs" stroke="#222" stroke-width="0.06">Pre-anticoagulant</text>
<text x="464.5" y="317.2" font-size="6.0" text-anchor="start" font-weight="normal" fill="#111" textLength="48.0" lengthAdjust="spacingAndGlyphs" stroke="#222" stroke-width="0.06">range (Mean ± 2SD)</text>
<polyline points="313.80,314.90 322.00,324.68" fill="none" stroke="#4a5866" stroke-width="1.7" stroke-linejoin="round"/>
<path d="M313.80 311.97V317.83M312.30 311.97H315.30M312.30 317.83H315.30" stroke="#1d2328" stroke-width="0.85" fill="none"/>
<circle cx="313.80" cy="314.90" r="1.35" fill="#283038" stroke="#181c21" stroke-width="0.6"/>
<polyline points="327.00,332.50 332.60,338.76 338.90,334.85 344.69,334.85 350.01,337.39 356.73,338.37 361.36,330.55 364.36,334.26 369.00,337.39 380.34,337.98 382.88,335.05 386.36,331.53 391.68,333.48 397.01,334.46 403.03,335.05 408.35,334.07 414.60,334.07 426.18,333.09 438.91,333.68 454.65,325.46" fill="none" stroke="#4a5866" stroke-width="1.7" stroke-linejoin="round"/>
<path d="M332.60 334.85V342.68M331.10 334.85H334.10M331.10 342.68H334.10" stroke="#1d2328" stroke-width="0.85" fill="none"/>
<circle cx="332.60" cy="338.76" r="1.35" fill="#283038" stroke="#181c21" stroke-width="0.6"/>
<path d="M338.90 332.50V337.20M337.40 332.50H340.40M337.40 337.20H340.40" stroke="#1d2328" stroke-width="0.85" fill="none"/>
<circle cx="338.90" cy="334.85" r="1.35" fill="#283038" stroke="#181c21" stroke-width="0.6"/>
<path d="M344.69 333.29V336.42M343.19 333.29H346.19M343.19 336.42H346.19" stroke="#1d2328" stroke-width="0.85" fill="none"/>
<circle cx="344.69" cy="334.85" r="1.35" fill="#283038" stroke="#181c21" stroke-width="0.6"/>
<path d="M350.01 335.05V339.74M348.51 335.05H351.51M348.51 339.74H351.51" stroke="#1d2328" stroke-width="0.85" fill="none"/>
<circle cx="350.01" cy="337.39" r="1.35" fill="#283038" stroke="#181c21" stroke-width="0.6"/>
<path d="M356.73 333.48V343.26M355.23 333.48H358.23M355.23 343.26H358.23" stroke="#1d2328" stroke-width="0.85" fill="none"/>
<circle cx="356.73" cy="338.37" r="1.35" fill="#283038" stroke="#181c21" stroke-width="0.6"/>
<path d="M361.36 324.68V336.42M359.86 324.68H362.86M359.86 336.42H362.86" stroke="#1d2328" stroke-width="0.85" fill="none"/>
<circle cx="361.36" cy="330.55" r="1.35" fill="#283038" stroke="#181c21" stroke-width="0.6"/>
<path d="M364.36 328.40V340.13M362.86 328.40H365.86M362.86 340.13H365.86" stroke="#1d2328" stroke-width="0.85" fill="none"/>
<circle cx="364.36" cy="334.26" r="1.35" fill="#283038" stroke="#181c21" stroke-width="0.6"/>
<path d="M369.00 331.53V343.26M367.50 331.53H370.50M367.50 343.26H370.50" stroke="#1d2328" stroke-width="0.85" fill="none"/>
<circle cx="369.00" cy="337.39" r="1.35" fill="#283038" stroke="#181c21" stroke-width="0.6"/>
<path d="M380.34 333.09V342.87M378.84 333.09H381.84M378.84 342.87H381.84" stroke="#1d2328" stroke-width="0.85" fill="none"/>
<circle cx="380.34" cy="337.98" r="1.35" fill="#283038" stroke="#181c21" stroke-width="0.6"/>
<path d="M382.88 329.18V340.91M381.38 329.18H384.38M381.38 340.91H384.38" stroke="#1d2328" stroke-width="0.85" fill="none"/>
<circle cx="382.88" cy="335.05" r="1.35" fill="#283038" stroke="#181c21" stroke-width="0.6"/>
<path d="M386.36 325.66V337.39M384.86 325.66H387.86M384.86 337.39H387.86" stroke="#1d2328" stroke-width="0.85" fill="none"/>
<circle cx="386.36" cy="331.53" r="1.35" fill="#283038" stroke="#181c21" stroke-width="0.6"/>
<path d="M391.68 328.59V338.37M390.18 328.59H393.18M390.18 338.37H393.18" stroke="#1d2328" stroke-width="0.85" fill="none"/>
<circle cx="391.68" cy="333.48" r="1.35" fill="#283038" stroke="#181c21" stroke-width="0.6"/>
<path d="M397.01 329.57V339.35M395.51 329.57H398.51M395.51 339.35H398.51" stroke="#1d2328" stroke-width="0.85" fill="none"/>
<circle cx="397.01" cy="334.46" r="1.35" fill="#283038" stroke="#181c21" stroke-width="0.6"/>
<path d="M403.03 330.74V339.35M401.53 330.74H404.53M401.53 339.35H404.53" stroke="#1d2328" stroke-width="0.85" fill="none"/>
<circle cx="403.03" cy="335.05" r="1.35" fill="#283038" stroke="#181c21" stroke-width="0.6"/>
<path d="M408.35 330.16V337.98M406.85 330.16H409.85M406.85 337.98H409.85" stroke="#1d2328" stroke-width="0.85" fill="none"/>
<circle cx="408.35" cy="334.07" r="1.35" fill="#283038" stroke="#181c21" stroke-width="0.6"/>
<path d="M414.60 330.16V337.98M413.10 330.16H416.10M413.10 337.98H416.10" stroke="#1d2328" stroke-width="0.85" fill="none"/>
<circle cx="414.60" cy="334.07" r="1.35" fill="#283038" stroke="#181c21" stroke-width="0.6"/>
<path d="M426.18 329.18V337.00M424.68 329.18H427.68M424.68 337.00H427.68" stroke="#1d2328" stroke-width="0.85" fill="none"/>
<circle cx="426.18" cy="333.09" r="1.35" fill="#283038" stroke="#181c21" stroke-width="0.6"/>
<path d="M438.91 329.77V337.59M437.41 329.77H440.41M437.41 337.59H440.41" stroke="#1d2328" stroke-width="0.85" fill="none"/>
<circle cx="438.91" cy="333.68" r="1.35" fill="#283038" stroke="#181c21" stroke-width="0.6"/>
<polyline points="313.80,311.77 322.00,323.70" fill="none" stroke="#4a2a7e" stroke-width="1.7" stroke-linejoin="round"/>
<path d="M313.80 308.84V314.70M312.30 308.84H315.30M312.30 314.70H315.30" stroke="#1d1032" stroke-width="0.85" fill="none"/>
<circle cx="313.80" cy="311.77" r="1.35" fill="#281745" stroke="#180d29" stroke-width="0.6"/>
<polyline points="327.00,330.55 332.60,338.37 338.90,302.97 344.69,301.21 350.01,304.14 356.73,312.36 369.69,313.73 379.41,323.70 386.36,325.27 391.68,327.42 397.01,328.98 403.72,330.55 414.60,329.96 426.18,329.96 438.91,330.35 454.65,328.79" fill="none" stroke="#4a2a7e" stroke-width="1.7" stroke-linejoin="round"/>
<path d="M332.60 335.44V341.31M331.10 335.44H334.10M331.10 341.31H334.10" stroke="#1d1032" stroke-width="0.85" fill="none"/>
<circle cx="332.60" cy="338.37" r="1.35" fill="#281745" stroke="#180d29" stroke-width="0.6"/>
<path d="M338.90 299.06V306.88M337.40 299.06H340.40M337.40 306.88H340.40" stroke="#1d1032" stroke-width="0.85" fill="none"/>
<circle cx="338.90" cy="302.97" r="1.35" fill="#281745" stroke="#180d29" stroke-width="0.6"/>
<path d="M344.69 298.27V304.14M343.19 298.27H346.19M343.19 304.14H346.19" stroke="#1d1032" stroke-width="0.85" fill="none"/>
<circle cx="344.69" cy="301.21" r="1.35" fill="#281745" stroke="#180d29" stroke-width="0.6"/>
<path d="M350.01 301.21V307.08M348.51 301.21H351.51M348.51 307.08H351.51" stroke="#1d1032" stroke-width="0.85" fill="none"/>
<circle cx="350.01" cy="304.14" r="1.35" fill="#281745" stroke="#180d29" stroke-width="0.6"/>
<path d="M356.73 307.47V317.25M355.23 307.47H358.23M355.23 317.25H358.23" stroke="#1d1032" stroke-width="0.85" fill="none"/>
<circle cx="356.73" cy="312.36" r="1.35" fill="#281745" stroke="#180d29" stroke-width="0.6"/>
<path d="M369.69 307.86V319.59M368.19 307.86H371.19M368.19 319.59H371.19" stroke="#1d1032" stroke-width="0.85" fill="none"/>
<circle cx="369.69" cy="313.73" r="1.35" fill="#281745" stroke="#180d29" stroke-width="0.6"/>
<path d="M379.41 319.79V327.61M377.91 319.79H380.91M377.91 327.61H380.91" stroke="#1d1032" stroke-width="0.85" fill="none"/>
<circle cx="379.41" cy="323.70" r="1.35" fill="#281745" stroke="#180d29" stroke-width="0.6"/>
<path d="M386.36 321.35V329.18M384.86 321.35H387.86M384.86 329.18H387.86" stroke="#1d1032" stroke-width="0.85" fill="none"/>
<circle cx="386.36" cy="325.27" r="1.35" fill="#281745" stroke="#180d29" stroke-width="0.6"/>
<path d="M391.68 323.51V331.33M390.18 323.51H393.18M390.18 331.33H393.18" stroke="#1d1032" stroke-width="0.85" fill="none"/>
<circle cx="391.68" cy="327.42" r="1.35" fill="#281745" stroke="#180d29" stroke-width="0.6"/>
<path d="M397.01 325.46V332.50M395.51 325.46H398.51M395.51 332.50H398.51" stroke="#1d1032" stroke-width="0.85" fill="none"/>
<circle cx="397.01" cy="328.98" r="1.35" fill="#281745" stroke="#180d29" stroke-width="0.6"/>
<path d="M403.72 327.03V334.07M402.22 327.03H405.22M402.22 334.07H405.22" stroke="#1d1032" stroke-width="0.85" fill="none"/>
<circle cx="403.72" cy="330.55" r="1.35" fill="#281745" stroke="#180d29" stroke-width="0.6"/>
<path d="M414.60 326.44V333.48M413.10 326.44H416.10M413.10 333.48H416.10" stroke="#1d1032" stroke-width="0.85" fill="none"/>
<circle cx="414.60" cy="329.96" r="1.35" fill="#281745" stroke="#180d29" stroke-width="0.6"/>
<path d="M426.18 327.03V332.90M424.68 327.03H427.68M424.68 332.90H427.68" stroke="#1d1032" stroke-width="0.85" fill="none"/>
<circle cx="426.18" cy="329.96" r="1.35" fill="#281745" stroke="#180d29" stroke-width="0.6"/>
<path d="M438.91 327.42V333.29M437.41 327.42H440.41M437.41 333.29H440.41" stroke="#1d1032" stroke-width="0.85" fill="none"/>
<circle cx="438.91" cy="330.35" r="1.35" fill="#281745" stroke="#180d29" stroke-width="0.6"/>
<polyline points="313.80,306.68 322.00,324.09" fill="none" stroke="#e5a33a" stroke-width="1.7" stroke-linejoin="round"/>
<path d="M313.80 301.79V311.57M312.30 301.79H315.30M312.30 311.57H315.30" stroke="#5b4117" stroke-width="0.85" fill="none"/>
<path d="M313.80 304.79L315.69 308.03L311.91 308.03Z" fill="#7d591f" stroke="#4b3512" stroke-width="0.6"/>
<polyline points="327.00,330.55 332.60,338.37 338.90,302.97 344.69,301.99 350.01,304.73 356.73,307.08 362.51,295.93 369.69,307.08 380.34,319.79 386.36,321.35 391.68,322.14 397.01,322.92 403.72,324.68 414.60,324.68 426.18,326.64 438.91,327.81 454.65,328.79" fill="none" stroke="#e5a33a" stroke-width="1.7" stroke-linejoin="round"/>
<path d="M332.60 335.44V341.31M331.10 335.44H334.10M331.10 341.31H334.10" stroke="#5b4117" stroke-width="0.85" fill="none"/>
<path d="M332.60 336.48L334.49 339.72L330.71 339.72Z" fill="#7d591f" stroke="#4b3512" stroke-width="0.6"/>
<path d="M338.90 298.08V307.86M337.40 298.08H340.40M337.40 307.86H340.40" stroke="#5b4117" stroke-width="0.85" fill="none"/>
<path d="M338.90 301.08L340.79 304.32L337.01 304.32Z" fill="#7d591f" stroke="#4b3512" stroke-width="0.6"/>
<path d="M344.69 298.08V305.90M343.19 298.08H346.19M343.19 305.90H346.19" stroke="#5b4117" stroke-width="0.85" fill="none"/>
<path d="M344.69 300.10L346.58 303.34L342.80 303.34Z" fill="#7d591f" stroke="#4b3512" stroke-width="0.6"/>
<path d="M350.01 300.82V308.64M348.51 300.82H351.51M348.51 308.64H351.51" stroke="#5b4117" stroke-width="0.85" fill="none"/>
<path d="M350.01 302.84L351.90 306.08L348.12 306.08Z" fill="#7d591f" stroke="#4b3512" stroke-width="0.6"/>
<path d="M356.73 303.16V310.99M355.23 303.16H358.23M355.23 310.99H358.23" stroke="#5b4117" stroke-width="0.85" fill="none"/>
<path d="M356.73 305.19L358.62 308.43L354.84 308.43Z" fill="#7d591f" stroke="#4b3512" stroke-width="0.6"/>
<path d="M362.51 289.08V302.77M361.01 289.08H364.01M361.01 302.77H364.01" stroke="#5b4117" stroke-width="0.85" fill="none"/>
<path d="M362.51 294.04L364.40 297.28L360.62 297.28Z" fill="#7d591f" stroke="#4b3512" stroke-width="0.6"/>
<path d="M369.69 301.21V312.94M368.19 301.21H371.19M368.19 312.94H371.19" stroke="#5b4117" stroke-width="0.85" fill="none"/>
<path d="M369.69 305.19L371.58 308.43L367.80 308.43Z" fill="#7d591f" stroke="#4b3512" stroke-width="0.6"/>
<path d="M380.34 316.86V322.72M378.84 316.86H381.84M378.84 322.72H381.84" stroke="#5b4117" stroke-width="0.85" fill="none"/>
<path d="M380.34 317.90L382.23 321.14L378.45 321.14Z" fill="#7d591f" stroke="#4b3512" stroke-width="0.6"/>
<path d="M386.36 318.42V324.29M384.86 318.42H387.86M384.86 324.29H387.86" stroke="#5b4117" stroke-width="0.85" fill="none"/>
<path d="M386.36 319.46L388.25 322.70L384.47 322.70Z" fill="#7d591f" stroke="#4b3512" stroke-width="0.6"/>
<path d="M391.68 319.20V325.07M390.18 319.20H393.18M390.18 325.07H393.18" stroke="#5b4117" stroke-width="0.85" fill="none"/>
<path d="M391.68 320.25L393.57 323.49L389.79 323.49Z" fill="#7d591f" stroke="#4b3512" stroke-width="0.6"/>
<path d="M397.01 319.99V325.85M395.51 319.99H398.51M395.51 325.85H398.51" stroke="#5b4117" stroke-width="0.85" fill="none"/>
<path d="M397.01 321.03L398.90 324.27L395.12 324.27Z" fill="#7d591f" stroke="#4b3512" stroke-width="0.6"/>
<path d="M403.72 321.75V327.61M402.22 321.75H405.22M402.22 327.61H405.22" stroke="#5b4117" stroke-width="0.85" fill="none"/>
<path d="M403.72 322.79L405.61 326.03L401.83 326.03Z" fill="#7d591f" stroke="#4b3512" stroke-width="0.6"/>
<path d="M414.60 321.75V327.61M413.10 321.75H416.10M413.10 327.61H416.10" stroke="#5b4117" stroke-width="0.85" fill="none"/>
<path d="M414.60 322.79L416.49 326.03L412.71 326.03Z" fill="#7d591f" stroke="#4b3512" stroke-width="0.6"/>
<path d="M426.18 323.70V329.57M424.68 323.70H427.68M424.68 329.57H427.68" stroke="#5b4117" stroke-width="0.85" fill="none"/>
<path d="M426.18 324.75L428.07 327.99L424.29 327.99Z" fill="#7d591f" stroke="#4b3512" stroke-width="0.6"/>
<path d="M438.91 324.88V330.74M437.41 324.88H440.41M437.41 330.74H440.41" stroke="#5b4117" stroke-width="0.85" fill="none"/>
<path d="M438.91 325.92L440.80 329.16L437.02 329.16Z" fill="#7d591f" stroke="#4b3512" stroke-width="0.6"/>
<polyline points="313.80,318.42 322.00,329.37" fill="none" stroke="#2f6a68" stroke-width="1.7" stroke-linejoin="round"/>
<path d="M313.80 315.49V321.35M312.30 315.49H315.30M312.30 321.35H315.30" stroke="#122a29" stroke-width="0.85" fill="none"/>
<circle cx="313.80" cy="318.42" r="1.35" fill="#193a39" stroke="#0f2222" stroke-width="0.6"/>
<polyline points="327.00,332.50 332.60,338.37 338.90,305.12 344.69,301.99 350.01,302.97 356.73,303.95 362.98,303.16 369.69,303.95 385.66,306.29 397.01,306.29 408.35,311.97 417.61,316.66 429.18,321.35 440.76,323.51 454.65,325.07" fill="none" stroke="#2f6a68" stroke-width="1.7" stroke-linejoin="round"/>
<path d="M332.60 335.44V341.31M331.10 335.44H334.10M331.10 341.31H334.10" stroke="#122a29" stroke-width="0.85" fill="none"/>
<circle cx="332.60" cy="338.37" r="1.35" fill="#193a39" stroke="#0f2222" stroke-width="0.6"/>
<path d="M338.90 300.23V310.01M337.40 300.23H340.40M337.40 310.01H340.40" stroke="#122a29" stroke-width="0.85" fill="none"/>
<circle cx="338.90" cy="305.12" r="1.35" fill="#193a39" stroke="#0f2222" stroke-width="0.6"/>
<path d="M344.69 299.06V304.92M343.19 299.06H346.19M343.19 304.92H346.19" stroke="#122a29" stroke-width="0.85" fill="none"/>
<circle cx="344.69" cy="301.99" r="1.35" fill="#193a39" stroke="#0f2222" stroke-width="0.6"/>
<path d="M350.01 300.03V305.90M348.51 300.03H351.51M348.51 305.90H351.51" stroke="#122a29" stroke-width="0.85" fill="none"/>
<circle cx="350.01" cy="302.97" r="1.35" fill="#193a39" stroke="#0f2222" stroke-width="0.6"/>
<path d="M356.73 301.01V306.88M355.23 301.01H358.23M355.23 306.88H358.23" stroke="#122a29" stroke-width="0.85" fill="none"/>
<circle cx="356.73" cy="303.95" r="1.35" fill="#193a39" stroke="#0f2222" stroke-width="0.6"/>
<path d="M362.98 299.25V307.08M361.48 299.25H364.48M361.48 307.08H364.48" stroke="#122a29" stroke-width="0.85" fill="none"/>
<circle cx="362.98" cy="303.16" r="1.35" fill="#193a39" stroke="#0f2222" stroke-width="0.6"/>
<path d="M369.69 299.06V308.84M368.19 299.06H371.19M368.19 308.84H371.19" stroke="#122a29" stroke-width="0.85" fill="none"/>
<circle cx="369.69" cy="303.95" r="1.35" fill="#193a39" stroke="#0f2222" stroke-width="0.6"/>
<path d="M385.66 301.40V311.18M384.16 301.40H387.16M384.16 311.18H387.16" stroke="#122a29" stroke-width="0.85" fill="none"/>
<circle cx="385.66" cy="306.29" r="1.35" fill="#193a39" stroke="#0f2222" stroke-width="0.6"/>
<path d="M397.01 300.43V312.16M395.51 300.43H398.51M395.51 312.16H398.51" stroke="#122a29" stroke-width="0.85" fill="none"/>
<circle cx="397.01" cy="306.29" r="1.35" fill="#193a39" stroke="#0f2222" stroke-width="0.6"/>
<path d="M408.35 308.05V315.88M406.85 308.05H409.85M406.85 315.88H409.85" stroke="#122a29" stroke-width="0.85" fill="none"/>
<circle cx="408.35" cy="311.97" r="1.35" fill="#193a39" stroke="#0f2222" stroke-width="0.6"/>
<path d="M417.61 311.77V321.55M416.11 311.77H419.11M416.11 321.55H419.11" stroke="#122a29" stroke-width="0.85" fill="none"/>
<circle cx="417.61" cy="316.66" r="1.35" fill="#193a39" stroke="#0f2222" stroke-width="0.6"/>
<path d="M429.18 317.83V324.88M427.68 317.83H430.68M427.68 324.88H430.68" stroke="#122a29" stroke-width="0.85" fill="none"/>
<circle cx="429.18" cy="321.35" r="1.35" fill="#193a39" stroke="#0f2222" stroke-width="0.6"/>
<path d="M440.76 320.57V326.44M439.26 320.57H442.26M439.26 326.44H442.26" stroke="#122a29" stroke-width="0.85" fill="none"/>
<circle cx="440.76" cy="323.51" r="1.35" fill="#193a39" stroke="#0f2222" stroke-width="0.6"/>
<line x1="395.5" y1="262.3" x2="403.8" y2="262.3" stroke="#4a5866" stroke-width="1.4"/>
<circle cx="399.60" cy="262.30" r="1.5" fill="#4a5866" stroke="#2c343d" stroke-width="0.6"/>
<text x="407.0" y="264.40000000000003" font-size="6.0" text-anchor="start" font-weight="normal" fill="#111" textLength="68.8" lengthAdjust="spacingAndGlyphs" stroke="#222" stroke-width="0.06">Placebo [Cohorts 4-6] (N=9)</text>
<line x1="395.5" y1="270.90000000000003" x2="403.8" y2="270.90000000000003" stroke="#4a2a7e" stroke-width="1.4"/>
<circle cx="399.60" cy="270.90" r="1.5" fill="#4a2a7e" stroke="#2c194b" stroke-width="0.6"/>
<text x="407.0" y="273.00000000000006" font-size="6.0" text-anchor="start" font-weight="normal" fill="#111" textLength="93.4" lengthAdjust="spacingAndGlyphs" stroke="#222" stroke-width="0.06">420 mg/4 mg x 45 min [Cohort 4] (N=6)</text>
<line x1="395.5" y1="279.5" x2="403.8" y2="279.5" stroke="#e5a33a" stroke-width="1.4"/>
<path d="M399.60 277.40L401.70 281.00L397.50 281.00Z" fill="#e5a33a" stroke="#896122" stroke-width="0.6"/>
<text x="407.0" y="281.6" font-size="6.0" text-anchor="start" font-weight="normal" fill="#111" textLength="93.4" lengthAdjust="spacingAndGlyphs" stroke="#222" stroke-width="0.06">420 mg/180 mg bolus [Cohort 5] (N=6)</text>
<line x1="395.5" y1="288.1" x2="403.8" y2="288.1" stroke="#2f6a68" stroke-width="1.4"/>
<circle cx="399.60" cy="288.10" r="1.5" fill="#2f6a68" stroke="#1c3f3e" stroke-width="0.6"/>
<text x="407.0" y="290.20000000000005" font-size="6.0" text-anchor="start" font-weight="normal" fill="#111" textLength="87.0" lengthAdjust="spacingAndGlyphs" stroke="#222" stroke-width="0.06">420 mg/4 mg x 2 h [Cohort 6] (N=6)</text>
<rect x="0" y="0" width="520" height="1.2" fill="#000"/><rect x="0" y="0" width="1.4" height="396" fill="#000"/><rect x="518.4" y="0" width="1.6" height="396" fill="#000"/><rect x="0" y="394.2" width="520" height="1.8" fill="#000"/>
</svg></body></html>
